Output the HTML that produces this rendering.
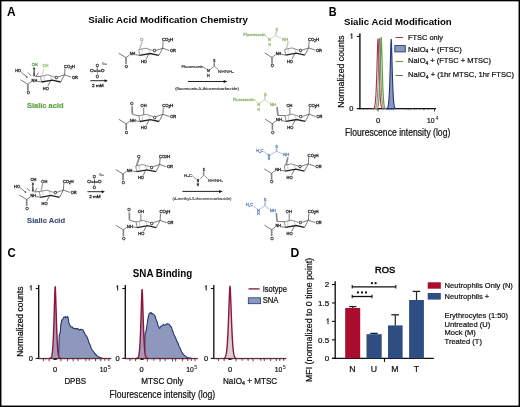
<!DOCTYPE html><html><head><meta charset="utf-8"><style>html,body{margin:0;padding:0;background:#fff;width:520px;height:407px;overflow:hidden}svg text{font-family:"Liberation Sans", sans-serif}</style></head><body><svg width="520" height="407" viewBox="0 0 520 407" style="display:block;will-change:transform" font-family='"Liberation Sans", sans-serif'>
<rect x="0" y="0" width="520" height="407" fill="#fff"/>
<text x="7.0" y="15.8" font-size="12.3" text-anchor="start" font-weight="bold" fill="#000" textLength="8.6" lengthAdjust="spacingAndGlyphs" >A</text>
<text x="88.2" y="22.8" font-size="9.8" text-anchor="start" font-weight="bold" fill="#000" textLength="159.7" lengthAdjust="spacingAndGlyphs" >Sialic Acid Modification Chemistry</text>
<text x="328.8" y="15.8" font-size="12.3" text-anchor="start" font-weight="bold" fill="#000" textLength="7.9" lengthAdjust="spacingAndGlyphs" >B</text>
<text x="7.6" y="257.4" font-size="12.3" text-anchor="start" font-weight="bold" fill="#000" textLength="8.2" lengthAdjust="spacingAndGlyphs" >C</text>
<text x="290.5" y="257.0" font-size="12.3" text-anchor="start" font-weight="bold" fill="#000" textLength="8.8" lengthAdjust="spacingAndGlyphs" >D</text>
<path d="M41.60,82.00 L40.60,76.30 L47.80,74.80 L54.90,77.10" stroke="#222" stroke-width="0.5" fill="none" />
<path d="M57.90,77.10 L64.60,74.80 L60.70,82.00" stroke="#222" stroke-width="0.6" fill="none" />
<path d="M60.70,82.00 L52.10,80.10 L41.60,82.00" stroke="#222" stroke-width="1.3" fill="none" />
<text x="56.40" y="79.04" font-size="4.0" text-anchor="middle" font-weight="normal" fill="#222" stroke-linejoin="round" stroke="#222" stroke-width="0.28">O</text>
<line x1="44.10" y1="75.60" x2="44.10" y2="80.60" stroke="#777" stroke-width="0.35"/>
<line x1="50.10" y1="75.60" x2="52.10" y2="80.10" stroke="#777" stroke-width="0.35"/>
<line x1="64.60" y1="74.80" x2="65.00" y2="68.20" stroke="#222" stroke-width="0.6"/>
<text x="69.40" y="67.84" font-size="4.0" text-anchor="middle" font-weight="normal" fill="#222" textLength="11" lengthAdjust="spacingAndGlyphs" stroke-linejoin="round" stroke="#222" stroke-width="0.28">CO<tspan font-size="2.6" dy="0.8">2</tspan><tspan dy="-0.8">H</tspan></text>
<line x1="64.60" y1="74.80" x2="71.20" y2="77.10" stroke="#222" stroke-width="0.6"/>
<text x="74.90" y="78.64" font-size="4.0" text-anchor="middle" font-weight="normal" fill="#222" textLength="6" lengthAdjust="spacingAndGlyphs" stroke-linejoin="round" stroke="#222" stroke-width="0.28">OR</text>
<line x1="50.70" y1="80.60" x2="48.00" y2="85.80" stroke="#222" stroke-width="0.6"/>
<text x="45.80" y="89.54" font-size="4.0" text-anchor="middle" font-weight="normal" fill="#222" textLength="6" lengthAdjust="spacingAndGlyphs" stroke-linejoin="round" stroke="#222" stroke-width="0.28">HO</text>
<line x1="41.60" y1="82.00" x2="37.40" y2="81.30" stroke="#222" stroke-width="0.6"/>
<text x="34.40" y="82.04" font-size="4.0" text-anchor="middle" font-weight="normal" fill="#222" textLength="5.6" lengthAdjust="spacingAndGlyphs" stroke-linejoin="round" stroke="#222" stroke-width="0.28">NH</text>
<line x1="31.40" y1="81.60" x2="27.90" y2="84.30" stroke="#222" stroke-width="0.6"/>
<line x1="27.90" y1="84.30" x2="20.60" y2="79.80" stroke="#222" stroke-width="0.6"/>
<line x1="27.55" y1="84.30" x2="27.55" y2="90.60" stroke="#222" stroke-width="0.5"/>
<line x1="28.25" y1="84.30" x2="28.25" y2="90.60" stroke="#222" stroke-width="0.5"/>
<text x="28.20" y="94.24" font-size="4.0" text-anchor="middle" font-weight="normal" fill="#222" stroke-linejoin="round" stroke="#222" stroke-width="0.28">O</text>
<line x1="40.60" y1="76.30" x2="35.10" y2="76.60" stroke="#222" stroke-width="0.6"/>
<line x1="21.30" y1="72.20" x2="26.00" y2="76.40" stroke="#222" stroke-width="0.6"/>
<text x="26.80" y="77.94" font-size="2.6" text-anchor="middle" font-weight="normal" fill="#222" stroke-linejoin="round" stroke="#222" stroke-width="0.1">a</text>
<text x="18.20" y="72.44" font-size="4.0" text-anchor="middle" font-weight="normal" fill="#222" textLength="5.8" lengthAdjust="spacingAndGlyphs" stroke-linejoin="round" stroke="#222" stroke-width="0.28">HO</text>
<line x1="28.00" y1="72.60" x2="31.20" y2="76.00" stroke="#222" stroke-width="0.6"/>
<line x1="36.40" y1="76.00" x2="38.30" y2="72.60" stroke="#222" stroke-width="0.6"/>
<path d="M33.40,76.00 L34.10,67.60 L34.80,76.00Z" stroke="#222" stroke-width="0.3" fill="#222" />
<path d="M33.00,69.20 L34.10,67.20 L35.20,69.20Z" stroke="#222" stroke-width="0.2" fill="#222" />
<text x="34.70" y="66.04" font-size="4.0" text-anchor="middle" font-weight="normal" fill="#5ea545" textLength="6" lengthAdjust="spacingAndGlyphs" stroke-linejoin="round" stroke="#5ea545" stroke-width="0.28">OH</text>
<line x1="42.40" y1="75.40" x2="43.80" y2="68.40" stroke="#98c478" stroke-width="0.55"/>
<text x="45.50" y="67.44" font-size="4.0" text-anchor="middle" font-weight="normal" fill="#98c478" textLength="6" lengthAdjust="spacingAndGlyphs" stroke-linejoin="round" stroke="#98c478" stroke-width="0.28">OH</text>
<text x="26.9" y="107.9" font-size="7.8" text-anchor="start" font-weight="bold" fill="#5ea545" textLength="36.7" lengthAdjust="spacingAndGlyphs"  stroke="#5ea545" stroke-width="0.2">Sialic acid</text>
<text x="97.30" y="66.74" font-size="4.0" text-anchor="middle" font-weight="normal" fill="#222" stroke-linejoin="round" stroke="#222" stroke-width="0.28">O</text>
<text x="104.50" y="65.04" font-size="2.6" text-anchor="middle" font-weight="normal" fill="#666" stroke-linejoin="round" stroke="#666" stroke-width="0.1">Na+</text>
<text x="97.30" y="72.14" font-size="4.0" text-anchor="middle" font-weight="normal" fill="#222" textLength="14.5" lengthAdjust="spacingAndGlyphs" stroke-linejoin="round" stroke="#222" stroke-width="0.28">O=I=O</text>
<text x="97.30" y="77.94" font-size="4.0" text-anchor="middle" font-weight="normal" fill="#222" stroke-linejoin="round" stroke="#222" stroke-width="0.28">O</text>
<line x1="97.30" y1="66.70" x2="97.30" y2="69.20" stroke="#222" stroke-width="0.4"/>
<line x1="97.30" y1="72.20" x2="97.30" y2="74.90" stroke="#222" stroke-width="0.4"/>
<line x1="90.30" y1="80.70" x2="105.80" y2="80.70" stroke="#111" stroke-width="0.9"/>
<path d="M107.8,80.7 L104.6,79.2 L104.6,82.2Z" stroke="#111" stroke-width="0" fill="#111" />
<text x="97.80" y="86.64" font-size="4.0" text-anchor="middle" font-weight="normal" fill="#222" textLength="11.5" lengthAdjust="spacingAndGlyphs" stroke-linejoin="round" stroke="#222" stroke-width="0.28">2 mM</text>
<path d="M139.70,55.40 L138.70,49.70 L145.90,48.20 L153.00,50.50" stroke="#222" stroke-width="0.5" fill="none" />
<path d="M156.00,50.50 L162.70,48.20 L158.80,55.40" stroke="#222" stroke-width="0.6" fill="none" />
<path d="M158.80,55.40 L150.20,53.50 L139.70,55.40" stroke="#222" stroke-width="1.3" fill="none" />
<text x="154.50" y="52.44" font-size="4.0" text-anchor="middle" font-weight="normal" fill="#222" stroke-linejoin="round" stroke="#222" stroke-width="0.28">O</text>
<line x1="142.20" y1="49.00" x2="142.20" y2="54.00" stroke="#777" stroke-width="0.35"/>
<line x1="148.20" y1="49.00" x2="150.20" y2="53.50" stroke="#777" stroke-width="0.35"/>
<line x1="162.70" y1="48.20" x2="163.10" y2="41.60" stroke="#222" stroke-width="0.6"/>
<text x="167.50" y="41.24" font-size="4.0" text-anchor="middle" font-weight="normal" fill="#222" textLength="11" lengthAdjust="spacingAndGlyphs" stroke-linejoin="round" stroke="#222" stroke-width="0.28">CO<tspan font-size="2.6" dy="0.8">2</tspan><tspan dy="-0.8">H</tspan></text>
<line x1="162.70" y1="48.20" x2="169.30" y2="50.50" stroke="#222" stroke-width="0.6"/>
<text x="173.00" y="52.04" font-size="4.0" text-anchor="middle" font-weight="normal" fill="#222" textLength="6" lengthAdjust="spacingAndGlyphs" stroke-linejoin="round" stroke="#222" stroke-width="0.28">OR</text>
<line x1="148.80" y1="54.00" x2="146.10" y2="59.20" stroke="#222" stroke-width="0.6"/>
<text x="143.90" y="62.94" font-size="4.0" text-anchor="middle" font-weight="normal" fill="#222" textLength="6" lengthAdjust="spacingAndGlyphs" stroke-linejoin="round" stroke="#222" stroke-width="0.28">HO</text>
<line x1="139.70" y1="55.40" x2="135.50" y2="54.70" stroke="#222" stroke-width="0.6"/>
<text x="132.50" y="55.44" font-size="4.0" text-anchor="middle" font-weight="normal" fill="#222" textLength="5.6" lengthAdjust="spacingAndGlyphs" stroke-linejoin="round" stroke="#222" stroke-width="0.28">NH</text>
<line x1="129.50" y1="55.00" x2="126.00" y2="57.70" stroke="#222" stroke-width="0.6"/>
<line x1="126.00" y1="57.70" x2="118.70" y2="53.20" stroke="#222" stroke-width="0.6"/>
<line x1="125.65" y1="57.70" x2="125.65" y2="64.00" stroke="#222" stroke-width="0.5"/>
<line x1="126.35" y1="57.70" x2="126.35" y2="64.00" stroke="#222" stroke-width="0.5"/>
<text x="126.30" y="67.64" font-size="4.0" text-anchor="middle" font-weight="normal" fill="#222" stroke-linejoin="round" stroke="#222" stroke-width="0.28">O</text>
<line x1="139.93" y1="49.21" x2="142.43" y2="42.01" stroke="#8a9a80" stroke-width="0.5"/>
<line x1="139.27" y1="48.99" x2="141.77" y2="41.79" stroke="#8a9a80" stroke-width="0.5"/>
<text x="141.90" y="41.44" font-size="4.0" text-anchor="middle" font-weight="normal" fill="#8a9a80" stroke-linejoin="round" stroke="#8a9a80" stroke-width="0.28">O</text>
<path d="M139.90,121.50 L138.90,115.80 L146.10,114.30 L153.20,116.60" stroke="#222" stroke-width="0.5" fill="none" />
<path d="M156.20,116.60 L162.90,114.30 L159.00,121.50" stroke="#222" stroke-width="0.6" fill="none" />
<path d="M159.00,121.50 L150.40,119.60 L139.90,121.50" stroke="#222" stroke-width="1.3" fill="none" />
<text x="154.70" y="118.54" font-size="4.0" text-anchor="middle" font-weight="normal" fill="#222" stroke-linejoin="round" stroke="#222" stroke-width="0.28">O</text>
<line x1="142.40" y1="115.10" x2="142.40" y2="120.10" stroke="#777" stroke-width="0.35"/>
<line x1="148.40" y1="115.10" x2="150.40" y2="119.60" stroke="#777" stroke-width="0.35"/>
<line x1="162.90" y1="114.30" x2="163.30" y2="107.70" stroke="#222" stroke-width="0.6"/>
<text x="167.70" y="107.34" font-size="4.0" text-anchor="middle" font-weight="normal" fill="#222" textLength="11" lengthAdjust="spacingAndGlyphs" stroke-linejoin="round" stroke="#222" stroke-width="0.28">CO<tspan font-size="2.6" dy="0.8">2</tspan><tspan dy="-0.8">H</tspan></text>
<line x1="162.90" y1="114.30" x2="169.50" y2="116.60" stroke="#222" stroke-width="0.6"/>
<text x="173.20" y="118.14" font-size="4.0" text-anchor="middle" font-weight="normal" fill="#222" textLength="6" lengthAdjust="spacingAndGlyphs" stroke-linejoin="round" stroke="#222" stroke-width="0.28">OR</text>
<line x1="149.00" y1="120.10" x2="146.30" y2="125.30" stroke="#222" stroke-width="0.6"/>
<text x="144.10" y="129.04" font-size="4.0" text-anchor="middle" font-weight="normal" fill="#222" textLength="6" lengthAdjust="spacingAndGlyphs" stroke-linejoin="round" stroke="#222" stroke-width="0.28">HO</text>
<line x1="139.90" y1="121.50" x2="135.70" y2="120.80" stroke="#222" stroke-width="0.6"/>
<text x="132.70" y="121.54" font-size="4.0" text-anchor="middle" font-weight="normal" fill="#222" textLength="5.6" lengthAdjust="spacingAndGlyphs" stroke-linejoin="round" stroke="#222" stroke-width="0.28">NH</text>
<line x1="129.70" y1="121.10" x2="126.20" y2="123.80" stroke="#222" stroke-width="0.6"/>
<line x1="126.20" y1="123.80" x2="118.90" y2="119.30" stroke="#222" stroke-width="0.6"/>
<line x1="125.85" y1="123.80" x2="125.85" y2="130.10" stroke="#222" stroke-width="0.5"/>
<line x1="126.55" y1="123.80" x2="126.55" y2="130.10" stroke="#222" stroke-width="0.5"/>
<text x="126.50" y="133.74" font-size="4.0" text-anchor="middle" font-weight="normal" fill="#222" stroke-linejoin="round" stroke="#222" stroke-width="0.28">O</text>
<line x1="138.90" y1="115.80" x2="132.30" y2="114.30" stroke="#222" stroke-width="0.6"/>
<line x1="132.65" y1="113.99" x2="132.45" y2="106.29" stroke="#222" stroke-width="0.5"/>
<line x1="131.95" y1="114.01" x2="131.75" y2="106.31" stroke="#222" stroke-width="0.5"/>
<text x="131.90" y="105.24" font-size="4.0" text-anchor="middle" font-weight="normal" fill="#222" stroke-linejoin="round" stroke="#222" stroke-width="0.28">O</text>
<line x1="143.70" y1="114.80" x2="143.70" y2="107.90" stroke="#222" stroke-width="0.6"/>
<text x="143.60" y="107.14" font-size="4.0" text-anchor="middle" font-weight="normal" fill="#222" textLength="6" lengthAdjust="spacingAndGlyphs" stroke-linejoin="round" stroke="#222" stroke-width="0.28">OH</text>
<text x="192.50" y="67.84" font-size="4.0" text-anchor="middle" font-weight="normal" fill="#333" textLength="22" lengthAdjust="spacingAndGlyphs" stroke-linejoin="round" stroke="#333" stroke-width="0.2">Fluorescein</text>
<line x1="203.60" y1="67.20" x2="207.70" y2="70.20" stroke="#222" stroke-width="0.5"/>
<text x="208.50" y="72.35" font-size="3.2" text-anchor="middle" font-weight="normal" fill="#222" stroke-linejoin="round" stroke="#222" stroke-width="0.28">N</text>
<text x="208.50" y="76.95" font-size="3.2" text-anchor="middle" font-weight="normal" fill="#222" stroke-linejoin="round" stroke="#222" stroke-width="0.28">H</text>
<line x1="209.70" y1="70.20" x2="214.20" y2="66.30" stroke="#222" stroke-width="0.5"/>
<line x1="214.55" y1="66.30" x2="214.55" y2="62.50" stroke="#222" stroke-width="0.45"/>
<line x1="213.85" y1="66.30" x2="213.85" y2="62.50" stroke="#222" stroke-width="0.45"/>
<text x="214.20" y="62.35" font-size="3.2" text-anchor="middle" font-weight="normal" fill="#222" stroke-linejoin="round" stroke="#222" stroke-width="0.28">S</text>
<line x1="214.60" y1="66.30" x2="218.30" y2="69.60" stroke="#222" stroke-width="0.5"/>
<text x="225.80" y="72.54" font-size="4.0" text-anchor="middle" font-weight="normal" fill="#444" textLength="16" lengthAdjust="spacingAndGlyphs" stroke-linejoin="round" stroke="#444" stroke-width="0.18">NHNH<tspan font-size="2.5" dy="0.8">2</tspan></text>
<line x1="188.00" y1="81.50" x2="225.00" y2="81.50" stroke="#222" stroke-width="1.0"/>
<path d="M227.3,81.5 L223.7,80.0 L223.7,83.0Z" stroke="#111" stroke-width="0" fill="#111" />
<text x="207.00" y="90.23" font-size="3.7" text-anchor="middle" font-weight="normal" fill="#3a3a3a" textLength="63.7" lengthAdjust="spacingAndGlyphs" stroke-linejoin="round" stroke="#3a3a3a" stroke-width="0.15">(fluorescein-5-thiosemicarbazide)</text>
<path d="M285.70,55.10 L284.70,49.40 L291.90,47.90 L299.00,50.20" stroke="#222" stroke-width="0.5" fill="none" />
<path d="M302.00,50.20 L308.70,47.90 L304.80,55.10" stroke="#222" stroke-width="0.6" fill="none" />
<path d="M304.80,55.10 L296.20,53.20 L285.70,55.10" stroke="#222" stroke-width="1.3" fill="none" />
<text x="300.50" y="52.14" font-size="4.0" text-anchor="middle" font-weight="normal" fill="#222" stroke-linejoin="round" stroke="#222" stroke-width="0.28">O</text>
<line x1="288.20" y1="48.70" x2="288.20" y2="53.70" stroke="#777" stroke-width="0.35"/>
<line x1="294.20" y1="48.70" x2="296.20" y2="53.20" stroke="#777" stroke-width="0.35"/>
<line x1="308.70" y1="47.90" x2="309.10" y2="41.30" stroke="#222" stroke-width="0.6"/>
<text x="313.50" y="40.94" font-size="4.0" text-anchor="middle" font-weight="normal" fill="#222" textLength="11" lengthAdjust="spacingAndGlyphs" stroke-linejoin="round" stroke="#222" stroke-width="0.28">CO<tspan font-size="2.6" dy="0.8">2</tspan><tspan dy="-0.8">H</tspan></text>
<line x1="308.70" y1="47.90" x2="315.30" y2="50.20" stroke="#222" stroke-width="0.6"/>
<text x="319.00" y="51.74" font-size="4.0" text-anchor="middle" font-weight="normal" fill="#222" textLength="6" lengthAdjust="spacingAndGlyphs" stroke-linejoin="round" stroke="#222" stroke-width="0.28">OR</text>
<line x1="294.80" y1="53.70" x2="292.10" y2="58.90" stroke="#222" stroke-width="0.6"/>
<text x="289.90" y="62.64" font-size="4.0" text-anchor="middle" font-weight="normal" fill="#222" textLength="6" lengthAdjust="spacingAndGlyphs" stroke-linejoin="round" stroke="#222" stroke-width="0.28">HO</text>
<line x1="285.70" y1="55.10" x2="281.50" y2="54.40" stroke="#222" stroke-width="0.6"/>
<text x="278.50" y="55.14" font-size="4.0" text-anchor="middle" font-weight="normal" fill="#222" textLength="5.6" lengthAdjust="spacingAndGlyphs" stroke-linejoin="round" stroke="#222" stroke-width="0.28">NH</text>
<line x1="275.50" y1="54.70" x2="272.00" y2="57.40" stroke="#222" stroke-width="0.6"/>
<line x1="272.00" y1="57.40" x2="264.70" y2="52.90" stroke="#222" stroke-width="0.6"/>
<line x1="271.65" y1="57.40" x2="271.65" y2="63.70" stroke="#222" stroke-width="0.5"/>
<line x1="272.35" y1="57.40" x2="272.35" y2="63.70" stroke="#222" stroke-width="0.5"/>
<text x="272.30" y="67.34" font-size="4.0" text-anchor="middle" font-weight="normal" fill="#222" stroke-linejoin="round" stroke="#222" stroke-width="0.28">O</text>
<line x1="286.84" y1="49.08" x2="288.64" y2="41.58" stroke="#94b672" stroke-width="0.5"/>
<line x1="286.16" y1="48.92" x2="287.96" y2="41.42" stroke="#94b672" stroke-width="0.5"/>
<text x="285.30" y="40.74" font-size="4.0" text-anchor="middle" font-weight="normal" fill="#94b672" textLength="6" lengthAdjust="spacingAndGlyphs" stroke-linejoin="round" stroke="#94b672" stroke-width="0.28">NH</text>
<line x1="281.70" y1="38.40" x2="275.40" y2="35.60" stroke="#94b672" stroke-width="0.5"/>
<line x1="275.74" y1="35.69" x2="276.84" y2="31.39" stroke="#94b672" stroke-width="0.45"/>
<line x1="275.06" y1="35.51" x2="276.16" y2="31.21" stroke="#94b672" stroke-width="0.45"/>
<text x="276.80" y="31.44" font-size="4.0" text-anchor="middle" font-weight="normal" fill="#94b672" stroke-linejoin="round" stroke="#94b672" stroke-width="0.28">S</text>
<line x1="275.40" y1="35.60" x2="270.10" y2="39.10" stroke="#94b672" stroke-width="0.5"/>
<text x="269.50" y="41.45" font-size="3.2" text-anchor="middle" font-weight="normal" fill="#94b672" stroke-linejoin="round" stroke="#94b672" stroke-width="0.28">N</text>
<text x="269.60" y="45.75" font-size="3.2" text-anchor="middle" font-weight="normal" fill="#94b672" stroke-linejoin="round" stroke="#94b672" stroke-width="0.28">H</text>
<line x1="268.90" y1="38.70" x2="265.40" y2="35.60" stroke="#94b672" stroke-width="0.5"/>
<text x="254.30" y="36.44" font-size="4.0" text-anchor="middle" font-weight="normal" fill="#94b672" textLength="22" lengthAdjust="spacingAndGlyphs" stroke-linejoin="round" stroke="#94b672" stroke-width="0.28">Fluorescein</text>
<path d="M286.10,121.40 L285.10,115.70 L292.30,114.20 L299.40,116.50" stroke="#222" stroke-width="0.5" fill="none" />
<path d="M302.40,116.50 L309.10,114.20 L305.20,121.40" stroke="#222" stroke-width="0.6" fill="none" />
<path d="M305.20,121.40 L296.60,119.50 L286.10,121.40" stroke="#222" stroke-width="1.3" fill="none" />
<text x="300.90" y="118.44" font-size="4.0" text-anchor="middle" font-weight="normal" fill="#222" stroke-linejoin="round" stroke="#222" stroke-width="0.28">O</text>
<line x1="288.60" y1="115.00" x2="288.60" y2="120.00" stroke="#777" stroke-width="0.35"/>
<line x1="294.60" y1="115.00" x2="296.60" y2="119.50" stroke="#777" stroke-width="0.35"/>
<line x1="309.10" y1="114.20" x2="309.50" y2="107.60" stroke="#222" stroke-width="0.6"/>
<text x="313.90" y="107.24" font-size="4.0" text-anchor="middle" font-weight="normal" fill="#222" textLength="11" lengthAdjust="spacingAndGlyphs" stroke-linejoin="round" stroke="#222" stroke-width="0.28">CO<tspan font-size="2.6" dy="0.8">2</tspan><tspan dy="-0.8">H</tspan></text>
<line x1="309.10" y1="114.20" x2="315.70" y2="116.50" stroke="#222" stroke-width="0.6"/>
<text x="319.40" y="118.04" font-size="4.0" text-anchor="middle" font-weight="normal" fill="#222" textLength="6" lengthAdjust="spacingAndGlyphs" stroke-linejoin="round" stroke="#222" stroke-width="0.28">OR</text>
<line x1="295.20" y1="120.00" x2="292.50" y2="125.20" stroke="#222" stroke-width="0.6"/>
<text x="290.30" y="128.94" font-size="4.0" text-anchor="middle" font-weight="normal" fill="#222" textLength="6" lengthAdjust="spacingAndGlyphs" stroke-linejoin="round" stroke="#222" stroke-width="0.28">HO</text>
<line x1="286.10" y1="121.40" x2="281.90" y2="120.70" stroke="#222" stroke-width="0.6"/>
<text x="278.90" y="121.44" font-size="4.0" text-anchor="middle" font-weight="normal" fill="#222" textLength="5.6" lengthAdjust="spacingAndGlyphs" stroke-linejoin="round" stroke="#222" stroke-width="0.28">NH</text>
<line x1="275.90" y1="121.00" x2="272.40" y2="123.70" stroke="#222" stroke-width="0.6"/>
<line x1="272.40" y1="123.70" x2="265.10" y2="119.20" stroke="#222" stroke-width="0.6"/>
<line x1="272.05" y1="123.70" x2="272.05" y2="130.00" stroke="#222" stroke-width="0.5"/>
<line x1="272.75" y1="123.70" x2="272.75" y2="130.00" stroke="#222" stroke-width="0.5"/>
<text x="272.70" y="133.64" font-size="4.0" text-anchor="middle" font-weight="normal" fill="#222" stroke-linejoin="round" stroke="#222" stroke-width="0.28">O</text>
<line x1="285.10" y1="115.70" x2="278.10" y2="115.40" stroke="#222" stroke-width="0.6"/>
<line x1="278.25" y1="115.56" x2="277.35" y2="106.96" stroke="#222" stroke-width="0.5"/>
<line x1="277.55" y1="115.64" x2="276.65" y2="107.04" stroke="#222" stroke-width="0.5"/>
<text x="273.00" y="105.94" font-size="4.0" text-anchor="middle" font-weight="normal" fill="#94b672" textLength="6" lengthAdjust="spacingAndGlyphs" stroke-linejoin="round" stroke="#94b672" stroke-width="0.28">NH</text>
<line x1="269.60" y1="103.20" x2="264.60" y2="99.70" stroke="#94b672" stroke-width="0.5"/>
<line x1="264.95" y1="99.75" x2="265.55" y2="95.65" stroke="#94b672" stroke-width="0.45"/>
<line x1="264.25" y1="99.65" x2="264.85" y2="95.55" stroke="#94b672" stroke-width="0.45"/>
<text x="265.30" y="95.74" font-size="4.0" text-anchor="middle" font-weight="normal" fill="#94b672" stroke-linejoin="round" stroke="#94b672" stroke-width="0.28">S</text>
<line x1="264.60" y1="99.70" x2="259.10" y2="103.70" stroke="#94b672" stroke-width="0.5"/>
<text x="258.60" y="105.85" font-size="3.2" text-anchor="middle" font-weight="normal" fill="#94b672" stroke-linejoin="round" stroke="#94b672" stroke-width="0.28">N</text>
<text x="258.60" y="110.55" font-size="3.2" text-anchor="middle" font-weight="normal" fill="#94b672" stroke-linejoin="round" stroke="#94b672" stroke-width="0.28">H</text>
<line x1="258.10" y1="103.20" x2="254.80" y2="100.00" stroke="#94b672" stroke-width="0.5"/>
<text x="243.70" y="101.14" font-size="4.0" text-anchor="middle" font-weight="normal" fill="#94b672" textLength="22" lengthAdjust="spacingAndGlyphs" stroke-linejoin="round" stroke="#94b672" stroke-width="0.28">Fluorescein</text>
<line x1="289.90" y1="114.70" x2="289.90" y2="107.80" stroke="#222" stroke-width="0.6"/>
<text x="289.40" y="106.94" font-size="4.0" text-anchor="middle" font-weight="normal" fill="#222" textLength="6" lengthAdjust="spacingAndGlyphs" stroke-linejoin="round" stroke="#222" stroke-width="0.28">OH</text>
<path d="M40.40,197.30 L39.40,191.60 L46.60,190.10 L53.70,192.40" stroke="#222" stroke-width="0.5" fill="none" />
<path d="M56.70,192.40 L63.40,190.10 L59.50,197.30" stroke="#222" stroke-width="0.6" fill="none" />
<path d="M59.50,197.30 L50.90,195.40 L40.40,197.30" stroke="#222" stroke-width="1.3" fill="none" />
<text x="55.20" y="194.34" font-size="4.0" text-anchor="middle" font-weight="normal" fill="#222" stroke-linejoin="round" stroke="#222" stroke-width="0.28">O</text>
<line x1="42.90" y1="190.90" x2="42.90" y2="195.90" stroke="#777" stroke-width="0.35"/>
<line x1="48.90" y1="190.90" x2="50.90" y2="195.40" stroke="#777" stroke-width="0.35"/>
<line x1="63.40" y1="190.10" x2="63.80" y2="183.50" stroke="#222" stroke-width="0.6"/>
<text x="68.20" y="183.14" font-size="4.0" text-anchor="middle" font-weight="normal" fill="#222" textLength="11" lengthAdjust="spacingAndGlyphs" stroke-linejoin="round" stroke="#222" stroke-width="0.28">CO<tspan font-size="2.6" dy="0.8">2</tspan><tspan dy="-0.8">H</tspan></text>
<line x1="63.40" y1="190.10" x2="70.00" y2="192.40" stroke="#222" stroke-width="0.6"/>
<text x="73.70" y="193.94" font-size="4.0" text-anchor="middle" font-weight="normal" fill="#222" textLength="6" lengthAdjust="spacingAndGlyphs" stroke-linejoin="round" stroke="#222" stroke-width="0.28">OR</text>
<line x1="49.50" y1="195.90" x2="46.80" y2="201.10" stroke="#222" stroke-width="0.6"/>
<text x="44.60" y="204.84" font-size="4.0" text-anchor="middle" font-weight="normal" fill="#222" textLength="6" lengthAdjust="spacingAndGlyphs" stroke-linejoin="round" stroke="#222" stroke-width="0.28">HO</text>
<line x1="40.40" y1="197.30" x2="36.20" y2="196.60" stroke="#222" stroke-width="0.6"/>
<text x="33.20" y="197.34" font-size="4.0" text-anchor="middle" font-weight="normal" fill="#222" textLength="5.6" lengthAdjust="spacingAndGlyphs" stroke-linejoin="round" stroke="#222" stroke-width="0.28">NH</text>
<line x1="30.20" y1="196.90" x2="26.70" y2="199.60" stroke="#222" stroke-width="0.6"/>
<line x1="26.70" y1="199.60" x2="19.40" y2="195.10" stroke="#222" stroke-width="0.6"/>
<line x1="26.35" y1="199.60" x2="26.35" y2="205.90" stroke="#222" stroke-width="0.5"/>
<line x1="27.05" y1="199.60" x2="27.05" y2="205.90" stroke="#222" stroke-width="0.5"/>
<text x="27.00" y="209.54" font-size="4.0" text-anchor="middle" font-weight="normal" fill="#222" stroke-linejoin="round" stroke="#222" stroke-width="0.28">O</text>
<line x1="39.40" y1="191.60" x2="33.90" y2="191.90" stroke="#222" stroke-width="0.6"/>
<line x1="20.10" y1="187.50" x2="24.80" y2="191.70" stroke="#222" stroke-width="0.6"/>
<text x="25.60" y="193.24" font-size="2.6" text-anchor="middle" font-weight="normal" fill="#222" stroke-linejoin="round" stroke="#222" stroke-width="0.1">a</text>
<text x="17.00" y="187.74" font-size="4.0" text-anchor="middle" font-weight="normal" fill="#222" textLength="5.8" lengthAdjust="spacingAndGlyphs" stroke-linejoin="round" stroke="#222" stroke-width="0.28">HO</text>
<line x1="26.80" y1="187.90" x2="30.00" y2="191.30" stroke="#222" stroke-width="0.6"/>
<line x1="35.20" y1="191.30" x2="37.10" y2="187.90" stroke="#222" stroke-width="0.6"/>
<path d="M32.20,191.30 L32.90,182.90 L33.60,191.30Z" stroke="#222" stroke-width="0.3" fill="#222" />
<path d="M31.80,184.50 L32.90,182.50 L34.00,184.50Z" stroke="#222" stroke-width="0.2" fill="#222" />
<text x="33.50" y="181.34" font-size="4.0" text-anchor="middle" font-weight="normal" fill="#222" textLength="6" lengthAdjust="spacingAndGlyphs" stroke-linejoin="round" stroke="#222" stroke-width="0.28">OH</text>
<line x1="41.20" y1="190.70" x2="42.60" y2="183.70" stroke="#222" stroke-width="0.55"/>
<text x="44.30" y="182.74" font-size="4.0" text-anchor="middle" font-weight="normal" fill="#222" textLength="6" lengthAdjust="spacingAndGlyphs" stroke-linejoin="round" stroke="#222" stroke-width="0.28">OH</text>
<text x="27.1" y="222.9" font-size="7.8" text-anchor="start" font-weight="bold" fill="#3f5078" textLength="38" lengthAdjust="spacingAndGlyphs"  stroke="#3f5078" stroke-width="0.15">Sialic Acid</text>
<text x="94.40" y="177.74" font-size="4.0" text-anchor="middle" font-weight="normal" fill="#222" stroke-linejoin="round" stroke="#222" stroke-width="0.28">O</text>
<text x="101.60" y="176.04" font-size="2.6" text-anchor="middle" font-weight="normal" fill="#666" stroke-linejoin="round" stroke="#666" stroke-width="0.1">Na+</text>
<text x="94.40" y="183.14" font-size="4.0" text-anchor="middle" font-weight="normal" fill="#222" textLength="14.5" lengthAdjust="spacingAndGlyphs" stroke-linejoin="round" stroke="#222" stroke-width="0.28">O=I=O</text>
<text x="94.40" y="188.94" font-size="4.0" text-anchor="middle" font-weight="normal" fill="#222" stroke-linejoin="round" stroke="#222" stroke-width="0.28">O</text>
<line x1="94.40" y1="177.70" x2="94.40" y2="180.20" stroke="#222" stroke-width="0.4"/>
<line x1="94.40" y1="183.20" x2="94.40" y2="185.90" stroke="#222" stroke-width="0.4"/>
<line x1="87.40" y1="191.70" x2="102.90" y2="191.70" stroke="#111" stroke-width="0.9"/>
<path d="M104.9,191.7 L101.7,190.2 L101.7,193.2Z" stroke="#111" stroke-width="0" fill="#111" />
<text x="94.90" y="197.64" font-size="4.0" text-anchor="middle" font-weight="normal" fill="#222" textLength="11.5" lengthAdjust="spacingAndGlyphs" stroke-linejoin="round" stroke="#222" stroke-width="0.28">2 mM</text>
<path d="M136.70,171.70 L135.70,166.00 L142.90,164.50 L150.00,166.80" stroke="#222" stroke-width="0.5" fill="none" />
<path d="M153.00,166.80 L159.70,164.50 L155.80,171.70" stroke="#222" stroke-width="0.6" fill="none" />
<path d="M155.80,171.70 L147.20,169.80 L136.70,171.70" stroke="#222" stroke-width="1.3" fill="none" />
<text x="151.50" y="168.74" font-size="4.0" text-anchor="middle" font-weight="normal" fill="#222" stroke-linejoin="round" stroke="#222" stroke-width="0.28">O</text>
<line x1="139.20" y1="165.30" x2="139.20" y2="170.30" stroke="#777" stroke-width="0.35"/>
<line x1="145.20" y1="165.30" x2="147.20" y2="169.80" stroke="#777" stroke-width="0.35"/>
<line x1="159.70" y1="164.50" x2="160.10" y2="157.90" stroke="#222" stroke-width="0.6"/>
<text x="164.50" y="157.54" font-size="4.0" text-anchor="middle" font-weight="normal" fill="#222" textLength="11" lengthAdjust="spacingAndGlyphs" stroke-linejoin="round" stroke="#222" stroke-width="0.28">CO<tspan font-size="2.6" dy="0.8">2</tspan><tspan dy="-0.8">H</tspan></text>
<line x1="159.70" y1="164.50" x2="166.30" y2="166.80" stroke="#222" stroke-width="0.6"/>
<text x="170.00" y="168.34" font-size="4.0" text-anchor="middle" font-weight="normal" fill="#222" textLength="6" lengthAdjust="spacingAndGlyphs" stroke-linejoin="round" stroke="#222" stroke-width="0.28">OR</text>
<line x1="145.80" y1="170.30" x2="143.10" y2="175.50" stroke="#222" stroke-width="0.6"/>
<text x="140.90" y="179.24" font-size="4.0" text-anchor="middle" font-weight="normal" fill="#222" textLength="6" lengthAdjust="spacingAndGlyphs" stroke-linejoin="round" stroke="#222" stroke-width="0.28">HO</text>
<line x1="136.70" y1="171.70" x2="132.50" y2="171.00" stroke="#222" stroke-width="0.6"/>
<text x="129.50" y="171.74" font-size="4.0" text-anchor="middle" font-weight="normal" fill="#222" textLength="5.6" lengthAdjust="spacingAndGlyphs" stroke-linejoin="round" stroke="#222" stroke-width="0.28">NH</text>
<line x1="126.50" y1="171.30" x2="123.00" y2="174.00" stroke="#222" stroke-width="0.6"/>
<line x1="123.00" y1="174.00" x2="115.70" y2="169.50" stroke="#222" stroke-width="0.6"/>
<line x1="122.65" y1="174.00" x2="122.65" y2="180.30" stroke="#222" stroke-width="0.5"/>
<line x1="123.35" y1="174.00" x2="123.35" y2="180.30" stroke="#222" stroke-width="0.5"/>
<text x="123.30" y="183.94" font-size="4.0" text-anchor="middle" font-weight="normal" fill="#222" stroke-linejoin="round" stroke="#222" stroke-width="0.28">O</text>
<line x1="136.93" y1="165.51" x2="139.43" y2="158.31" stroke="#222" stroke-width="0.5"/>
<line x1="136.27" y1="165.29" x2="138.77" y2="158.09" stroke="#222" stroke-width="0.5"/>
<text x="138.90" y="157.74" font-size="4.0" text-anchor="middle" font-weight="normal" fill="#222" stroke-linejoin="round" stroke="#222" stroke-width="0.28">O</text>
<path d="M137.10,227.60 L136.10,221.90 L143.30,220.40 L150.40,222.70" stroke="#222" stroke-width="0.5" fill="none" />
<path d="M153.40,222.70 L160.10,220.40 L156.20,227.60" stroke="#222" stroke-width="0.6" fill="none" />
<path d="M156.20,227.60 L147.60,225.70 L137.10,227.60" stroke="#222" stroke-width="1.3" fill="none" />
<text x="151.90" y="224.64" font-size="4.0" text-anchor="middle" font-weight="normal" fill="#222" stroke-linejoin="round" stroke="#222" stroke-width="0.28">O</text>
<line x1="139.60" y1="221.20" x2="139.60" y2="226.20" stroke="#777" stroke-width="0.35"/>
<line x1="145.60" y1="221.20" x2="147.60" y2="225.70" stroke="#777" stroke-width="0.35"/>
<line x1="160.10" y1="220.40" x2="160.50" y2="213.80" stroke="#222" stroke-width="0.6"/>
<text x="164.90" y="213.44" font-size="4.0" text-anchor="middle" font-weight="normal" fill="#222" textLength="11" lengthAdjust="spacingAndGlyphs" stroke-linejoin="round" stroke="#222" stroke-width="0.28">CO<tspan font-size="2.6" dy="0.8">2</tspan><tspan dy="-0.8">H</tspan></text>
<line x1="160.10" y1="220.40" x2="166.70" y2="222.70" stroke="#222" stroke-width="0.6"/>
<text x="170.40" y="224.24" font-size="4.0" text-anchor="middle" font-weight="normal" fill="#222" textLength="6" lengthAdjust="spacingAndGlyphs" stroke-linejoin="round" stroke="#222" stroke-width="0.28">OR</text>
<line x1="146.20" y1="226.20" x2="143.50" y2="231.40" stroke="#222" stroke-width="0.6"/>
<text x="141.30" y="235.14" font-size="4.0" text-anchor="middle" font-weight="normal" fill="#222" textLength="6" lengthAdjust="spacingAndGlyphs" stroke-linejoin="round" stroke="#222" stroke-width="0.28">HO</text>
<line x1="137.10" y1="227.60" x2="132.90" y2="226.90" stroke="#222" stroke-width="0.6"/>
<text x="129.90" y="227.64" font-size="4.0" text-anchor="middle" font-weight="normal" fill="#222" textLength="5.6" lengthAdjust="spacingAndGlyphs" stroke-linejoin="round" stroke="#222" stroke-width="0.28">NH</text>
<line x1="126.90" y1="227.20" x2="123.40" y2="229.90" stroke="#222" stroke-width="0.6"/>
<line x1="123.40" y1="229.90" x2="116.10" y2="225.40" stroke="#222" stroke-width="0.6"/>
<line x1="123.05" y1="229.90" x2="123.05" y2="236.20" stroke="#222" stroke-width="0.5"/>
<line x1="123.75" y1="229.90" x2="123.75" y2="236.20" stroke="#222" stroke-width="0.5"/>
<text x="123.70" y="239.84" font-size="4.0" text-anchor="middle" font-weight="normal" fill="#222" stroke-linejoin="round" stroke="#222" stroke-width="0.28">O</text>
<line x1="136.10" y1="221.90" x2="129.50" y2="220.40" stroke="#222" stroke-width="0.6"/>
<line x1="129.85" y1="220.09" x2="129.65" y2="212.39" stroke="#222" stroke-width="0.5"/>
<line x1="129.15" y1="220.11" x2="128.95" y2="212.41" stroke="#222" stroke-width="0.5"/>
<text x="129.10" y="211.34" font-size="4.0" text-anchor="middle" font-weight="normal" fill="#222" stroke-linejoin="round" stroke="#222" stroke-width="0.28">O</text>
<line x1="140.90" y1="220.90" x2="140.90" y2="214.00" stroke="#222" stroke-width="0.6"/>
<text x="140.80" y="213.24" font-size="4.0" text-anchor="middle" font-weight="normal" fill="#222" textLength="6" lengthAdjust="spacingAndGlyphs" stroke-linejoin="round" stroke="#222" stroke-width="0.28">OH</text>
<text x="188.10" y="176.54" font-size="4.0" text-anchor="middle" font-weight="normal" fill="#333" textLength="8" lengthAdjust="spacingAndGlyphs" stroke-linejoin="round" stroke="#333" stroke-width="0.2">H<tspan font-size="2.5" dy="0.8">3</tspan><tspan dy="-0.8">C</tspan></text>
<line x1="192.20" y1="175.50" x2="196.20" y2="179.30" stroke="#222" stroke-width="0.5"/>
<text x="197.90" y="181.65" font-size="3.2" text-anchor="middle" font-weight="normal" fill="#222" stroke-linejoin="round" stroke="#222" stroke-width="0.28">N</text>
<text x="197.90" y="186.15" font-size="3.2" text-anchor="middle" font-weight="normal" fill="#222" stroke-linejoin="round" stroke="#222" stroke-width="0.28">H</text>
<line x1="199.50" y1="179.30" x2="203.60" y2="175.50" stroke="#222" stroke-width="0.5"/>
<line x1="203.95" y1="175.50" x2="203.95" y2="171.50" stroke="#222" stroke-width="0.45"/>
<line x1="203.25" y1="175.50" x2="203.25" y2="171.50" stroke="#222" stroke-width="0.45"/>
<text x="203.70" y="170.55" font-size="3.2" text-anchor="middle" font-weight="normal" fill="#222" stroke-linejoin="round" stroke="#222" stroke-width="0.28">S</text>
<line x1="204.40" y1="175.50" x2="207.70" y2="178.80" stroke="#222" stroke-width="0.5"/>
<text x="215.50" y="181.64" font-size="4.0" text-anchor="middle" font-weight="normal" fill="#444" textLength="15.5" lengthAdjust="spacingAndGlyphs" stroke-linejoin="round" stroke="#444" stroke-width="0.18">NHNH<tspan font-size="2.5" dy="0.8">2</tspan></text>
<line x1="182.40" y1="191.40" x2="220.00" y2="191.40" stroke="#222" stroke-width="1.0"/>
<path d="M222.6,191.4 L219.0,189.9 L219.0,192.9Z" stroke="#111" stroke-width="0" fill="#111" />
<text x="202.00" y="199.73" font-size="3.7" text-anchor="middle" font-weight="normal" fill="#444" textLength="59" lengthAdjust="spacingAndGlyphs" stroke-linejoin="round" stroke="#444" stroke-width="0.12">(4-methyl-3-thiosemicarbazide)</text>
<path d="M285.30,171.10 L284.30,165.40 L291.50,163.90 L298.60,166.20" stroke="#222" stroke-width="0.5" fill="none" />
<path d="M301.60,166.20 L308.30,163.90 L304.40,171.10" stroke="#222" stroke-width="0.6" fill="none" />
<path d="M304.40,171.10 L295.80,169.20 L285.30,171.10" stroke="#222" stroke-width="1.3" fill="none" />
<text x="300.10" y="168.14" font-size="4.0" text-anchor="middle" font-weight="normal" fill="#222" stroke-linejoin="round" stroke="#222" stroke-width="0.28">O</text>
<line x1="287.80" y1="164.70" x2="287.80" y2="169.70" stroke="#777" stroke-width="0.35"/>
<line x1="293.80" y1="164.70" x2="295.80" y2="169.20" stroke="#777" stroke-width="0.35"/>
<line x1="308.30" y1="163.90" x2="308.70" y2="157.30" stroke="#222" stroke-width="0.6"/>
<text x="313.10" y="156.94" font-size="4.0" text-anchor="middle" font-weight="normal" fill="#222" textLength="11" lengthAdjust="spacingAndGlyphs" stroke-linejoin="round" stroke="#222" stroke-width="0.28">CO<tspan font-size="2.6" dy="0.8">2</tspan><tspan dy="-0.8">H</tspan></text>
<line x1="308.30" y1="163.90" x2="314.90" y2="166.20" stroke="#222" stroke-width="0.6"/>
<text x="318.60" y="167.74" font-size="4.0" text-anchor="middle" font-weight="normal" fill="#222" textLength="6" lengthAdjust="spacingAndGlyphs" stroke-linejoin="round" stroke="#222" stroke-width="0.28">OR</text>
<line x1="294.40" y1="169.70" x2="291.70" y2="174.90" stroke="#222" stroke-width="0.6"/>
<text x="289.50" y="178.64" font-size="4.0" text-anchor="middle" font-weight="normal" fill="#222" textLength="6" lengthAdjust="spacingAndGlyphs" stroke-linejoin="round" stroke="#222" stroke-width="0.28">HO</text>
<line x1="285.30" y1="171.10" x2="281.10" y2="170.40" stroke="#222" stroke-width="0.6"/>
<text x="278.10" y="171.14" font-size="4.0" text-anchor="middle" font-weight="normal" fill="#222" textLength="5.6" lengthAdjust="spacingAndGlyphs" stroke-linejoin="round" stroke="#222" stroke-width="0.28">NH</text>
<line x1="275.10" y1="170.70" x2="271.60" y2="173.40" stroke="#222" stroke-width="0.6"/>
<line x1="271.60" y1="173.40" x2="264.30" y2="168.90" stroke="#222" stroke-width="0.6"/>
<line x1="271.25" y1="173.40" x2="271.25" y2="179.70" stroke="#222" stroke-width="0.5"/>
<line x1="271.95" y1="173.40" x2="271.95" y2="179.70" stroke="#222" stroke-width="0.5"/>
<text x="271.90" y="183.34" font-size="4.0" text-anchor="middle" font-weight="normal" fill="#222" stroke-linejoin="round" stroke="#222" stroke-width="0.28">O</text>
<line x1="286.44" y1="165.08" x2="288.24" y2="157.38" stroke="#222" stroke-width="0.5"/>
<line x1="285.76" y1="164.92" x2="287.56" y2="157.22" stroke="#222" stroke-width="0.5"/>
<text x="286.20" y="156.04" font-size="4.0" text-anchor="middle" font-weight="normal" fill="#6283bd" textLength="6" lengthAdjust="spacingAndGlyphs" stroke-linejoin="round" stroke="#6283bd" stroke-width="0.28">NH</text>
<line x1="282.80" y1="153.90" x2="276.60" y2="151.40" stroke="#6283bd" stroke-width="0.5"/>
<line x1="276.95" y1="151.40" x2="276.95" y2="148.10" stroke="#6283bd" stroke-width="0.45"/>
<line x1="276.25" y1="151.40" x2="276.25" y2="148.10" stroke="#6283bd" stroke-width="0.45"/>
<text x="276.60" y="148.34" font-size="4.0" text-anchor="middle" font-weight="normal" fill="#6283bd" stroke-linejoin="round" stroke="#6283bd" stroke-width="0.28">S</text>
<line x1="276.60" y1="151.40" x2="269.50" y2="155.30" stroke="#6283bd" stroke-width="0.5"/>
<text x="268.80" y="157.45" font-size="3.2" text-anchor="middle" font-weight="normal" fill="#6283bd" stroke-linejoin="round" stroke="#6283bd" stroke-width="0.28">N</text>
<text x="268.80" y="160.25" font-size="3.2" text-anchor="middle" font-weight="normal" fill="#6283bd" stroke-linejoin="round" stroke="#6283bd" stroke-width="0.28">H</text>
<line x1="268.10" y1="154.90" x2="263.80" y2="151.40" stroke="#6283bd" stroke-width="0.5"/>
<text x="259.90" y="152.34" font-size="4.0" text-anchor="middle" font-weight="normal" fill="#6283bd" textLength="7.5" lengthAdjust="spacingAndGlyphs" stroke-linejoin="round" stroke="#6283bd" stroke-width="0.28">H<tspan font-size="2.5" dy="0.8">3</tspan><tspan dy="-0.8">C</tspan></text>
<path d="M285.40,227.40 L284.40,221.70 L291.60,220.20 L298.70,222.50" stroke="#222" stroke-width="0.5" fill="none" />
<path d="M301.70,222.50 L308.40,220.20 L304.50,227.40" stroke="#222" stroke-width="0.6" fill="none" />
<path d="M304.50,227.40 L295.90,225.50 L285.40,227.40" stroke="#222" stroke-width="1.3" fill="none" />
<text x="300.20" y="224.44" font-size="4.0" text-anchor="middle" font-weight="normal" fill="#222" stroke-linejoin="round" stroke="#222" stroke-width="0.28">O</text>
<line x1="287.90" y1="221.00" x2="287.90" y2="226.00" stroke="#777" stroke-width="0.35"/>
<line x1="293.90" y1="221.00" x2="295.90" y2="225.50" stroke="#777" stroke-width="0.35"/>
<line x1="308.40" y1="220.20" x2="308.80" y2="213.60" stroke="#222" stroke-width="0.6"/>
<text x="313.20" y="213.24" font-size="4.0" text-anchor="middle" font-weight="normal" fill="#222" textLength="11" lengthAdjust="spacingAndGlyphs" stroke-linejoin="round" stroke="#222" stroke-width="0.28">CO<tspan font-size="2.6" dy="0.8">2</tspan><tspan dy="-0.8">H</tspan></text>
<line x1="308.40" y1="220.20" x2="315.00" y2="222.50" stroke="#222" stroke-width="0.6"/>
<text x="318.70" y="224.04" font-size="4.0" text-anchor="middle" font-weight="normal" fill="#222" textLength="6" lengthAdjust="spacingAndGlyphs" stroke-linejoin="round" stroke="#222" stroke-width="0.28">OR</text>
<line x1="294.50" y1="226.00" x2="291.80" y2="231.20" stroke="#222" stroke-width="0.6"/>
<text x="289.60" y="234.94" font-size="4.0" text-anchor="middle" font-weight="normal" fill="#222" textLength="6" lengthAdjust="spacingAndGlyphs" stroke-linejoin="round" stroke="#222" stroke-width="0.28">HO</text>
<line x1="285.40" y1="227.40" x2="281.20" y2="226.70" stroke="#222" stroke-width="0.6"/>
<text x="278.20" y="227.44" font-size="4.0" text-anchor="middle" font-weight="normal" fill="#222" textLength="5.6" lengthAdjust="spacingAndGlyphs" stroke-linejoin="round" stroke="#222" stroke-width="0.28">NH</text>
<line x1="275.20" y1="227.00" x2="271.70" y2="229.70" stroke="#222" stroke-width="0.6"/>
<line x1="271.70" y1="229.70" x2="264.40" y2="225.20" stroke="#222" stroke-width="0.6"/>
<line x1="271.35" y1="229.70" x2="271.35" y2="236.00" stroke="#222" stroke-width="0.5"/>
<line x1="272.05" y1="229.70" x2="272.05" y2="236.00" stroke="#222" stroke-width="0.5"/>
<text x="272.00" y="239.64" font-size="4.0" text-anchor="middle" font-weight="normal" fill="#222" stroke-linejoin="round" stroke="#222" stroke-width="0.28">O</text>
<line x1="284.40" y1="221.70" x2="277.40" y2="221.40" stroke="#222" stroke-width="0.6"/>
<line x1="277.55" y1="221.56" x2="276.65" y2="212.96" stroke="#222" stroke-width="0.5"/>
<line x1="276.85" y1="221.64" x2="275.95" y2="213.04" stroke="#222" stroke-width="0.5"/>
<text x="272.70" y="211.64" font-size="4.0" text-anchor="middle" font-weight="normal" fill="#6283bd" textLength="6" lengthAdjust="spacingAndGlyphs" stroke-linejoin="round" stroke="#6283bd" stroke-width="0.28">NH</text>
<line x1="269.40" y1="209.20" x2="265.00" y2="205.70" stroke="#6283bd" stroke-width="0.5"/>
<line x1="265.35" y1="205.70" x2="265.35" y2="201.40" stroke="#6283bd" stroke-width="0.45"/>
<line x1="264.65" y1="205.70" x2="264.65" y2="201.40" stroke="#6283bd" stroke-width="0.45"/>
<text x="265.00" y="201.44" font-size="4.0" text-anchor="middle" font-weight="normal" fill="#6283bd" stroke-linejoin="round" stroke="#6283bd" stroke-width="0.28">S</text>
<line x1="265.00" y1="205.70" x2="258.90" y2="209.90" stroke="#6283bd" stroke-width="0.5"/>
<text x="258.40" y="212.15" font-size="3.2" text-anchor="middle" font-weight="normal" fill="#6283bd" stroke-linejoin="round" stroke="#6283bd" stroke-width="0.28">N</text>
<text x="258.50" y="215.05" font-size="3.2" text-anchor="middle" font-weight="normal" fill="#6283bd" stroke-linejoin="round" stroke="#6283bd" stroke-width="0.28">H</text>
<line x1="257.90" y1="209.70" x2="253.40" y2="206.20" stroke="#6283bd" stroke-width="0.5"/>
<text x="249.50" y="206.44" font-size="4.0" text-anchor="middle" font-weight="normal" fill="#6283bd" textLength="7.5" lengthAdjust="spacingAndGlyphs" stroke-linejoin="round" stroke="#6283bd" stroke-width="0.28">H<tspan font-size="2.5" dy="0.8">3</tspan><tspan dy="-0.8">C</tspan></text>
<line x1="289.20" y1="220.70" x2="289.20" y2="213.80" stroke="#222" stroke-width="0.6"/>
<text x="288.80" y="212.74" font-size="4.0" text-anchor="middle" font-weight="normal" fill="#222" textLength="6" lengthAdjust="spacingAndGlyphs" stroke-linejoin="round" stroke="#222" stroke-width="0.28">OH</text>
<text x="344.0" y="25" font-size="9.5" text-anchor="start" font-weight="bold" fill="#000" textLength="107.7" lengthAdjust="spacingAndGlyphs" >Sialic Acid Modification</text>
<text transform="translate(344.4,71.6) rotate(-90)" font-size="9.3" text-anchor="middle" fill="#111" stroke="#111" stroke-width="0.22" textLength="72.5" lengthAdjust="spacingAndGlyphs">Normalized counts</text>
<line x1="359.90" y1="33.30" x2="359.90" y2="109.20" stroke="#111" stroke-width="1.4"/>
<line x1="356.80" y1="36.40" x2="359.90" y2="36.40" stroke="#111" stroke-width="1.1"/>
<line x1="356.80" y1="108.70" x2="436.00" y2="108.70" stroke="#111" stroke-width="1.3"/>
<line x1="378.00" y1="108.70" x2="378.00" y2="111.50" stroke="#222" stroke-width="0.8"/>
<line x1="434.50" y1="108.70" x2="434.50" y2="111.50" stroke="#222" stroke-width="0.8"/>
<line x1="351.80" y1="33.60" x2="351.80" y2="38.90" stroke="#111" stroke-width="1.0"/>
<line x1="352.10" y1="33.70" x2="350.30" y2="35.00" stroke="#111" stroke-width="0.85"/>
<text x="353.4" y="111.3" font-size="7.5" text-anchor="end" font-weight="normal" fill="#111"  stroke="#111" stroke-width="0.22">0</text>
<text x="378.1" y="122.7" font-size="7.8" text-anchor="middle" font-weight="normal" fill="#111"  stroke="#111" stroke-width="0.22">0</text>
<text x="426.9" y="122.8" font-size="7.8" text-anchor="start" font-weight="normal" fill="#111" textLength="7.6" lengthAdjust="spacingAndGlyphs"  stroke="#111" stroke-width="0.22">10</text>
<text x="435.5" y="119.6" font-size="5.9" text-anchor="start" font-weight="normal" fill="#111" textLength="3.1" lengthAdjust="spacingAndGlyphs" >4</text>
<text x="345.1" y="135.9" font-size="10.0" text-anchor="start" font-weight="normal" fill="#111" textLength="105.2" lengthAdjust="spacingAndGlyphs"  stroke="#111" stroke-width="0.22">Flourescence intensity (log)</text>
<line x1="361.74" y1="108.20" x2="361.74" y2="109.71" stroke="#333" stroke-width="0.5"/>
<line x1="363.72" y1="108.16" x2="363.72" y2="109.79" stroke="#333" stroke-width="0.5"/>
<line x1="365.83" y1="108.51" x2="365.83" y2="109.09" stroke="#333" stroke-width="0.5"/>
<line x1="367.06" y1="108.01" x2="367.06" y2="110.09" stroke="#333" stroke-width="0.5"/>
<line x1="369.16" y1="108.40" x2="369.16" y2="109.30" stroke="#333" stroke-width="0.5"/>
<line x1="371.75" y1="108.24" x2="371.75" y2="109.61" stroke="#333" stroke-width="0.5"/>
<line x1="373.44" y1="108.24" x2="373.44" y2="109.62" stroke="#333" stroke-width="0.5"/>
<line x1="375.09" y1="108.45" x2="375.09" y2="109.20" stroke="#333" stroke-width="0.5"/>
<line x1="376.93" y1="107.99" x2="376.93" y2="110.13" stroke="#333" stroke-width="0.5"/>
<line x1="378.67" y1="108.07" x2="378.67" y2="109.96" stroke="#333" stroke-width="0.5"/>
<line x1="380.67" y1="108.51" x2="380.67" y2="109.08" stroke="#333" stroke-width="0.5"/>
<line x1="382.61" y1="108.17" x2="382.61" y2="109.77" stroke="#333" stroke-width="0.5"/>
<line x1="384.00" y1="108.53" x2="384.00" y2="109.04" stroke="#333" stroke-width="0.5"/>
<line x1="386.42" y1="108.24" x2="386.42" y2="109.61" stroke="#333" stroke-width="0.5"/>
<line x1="388.12" y1="107.98" x2="388.12" y2="110.14" stroke="#333" stroke-width="0.5"/>
<line x1="389.96" y1="107.95" x2="389.96" y2="110.20" stroke="#333" stroke-width="0.5"/>
<line x1="391.49" y1="108.03" x2="391.49" y2="110.04" stroke="#333" stroke-width="0.5"/>
<line x1="393.39" y1="107.94" x2="393.39" y2="110.22" stroke="#333" stroke-width="0.5"/>
<line x1="395.68" y1="108.49" x2="395.68" y2="109.13" stroke="#333" stroke-width="0.5"/>
<line x1="396.79" y1="108.41" x2="396.79" y2="109.28" stroke="#333" stroke-width="0.5"/>
<line x1="399.47" y1="108.27" x2="399.47" y2="109.57" stroke="#333" stroke-width="0.5"/>
<line x1="400.98" y1="108.35" x2="400.98" y2="109.39" stroke="#333" stroke-width="0.5"/>
<line x1="402.71" y1="108.30" x2="402.71" y2="109.50" stroke="#333" stroke-width="0.5"/>
<line x1="404.40" y1="108.17" x2="404.40" y2="109.76" stroke="#333" stroke-width="0.5"/>
<line x1="406.48" y1="107.96" x2="406.48" y2="110.18" stroke="#333" stroke-width="0.5"/>
<line x1="408.43" y1="107.95" x2="408.43" y2="110.21" stroke="#333" stroke-width="0.5"/>
<line x1="410.46" y1="107.91" x2="410.46" y2="110.29" stroke="#333" stroke-width="0.5"/>
<line x1="412.12" y1="108.44" x2="412.12" y2="109.21" stroke="#333" stroke-width="0.5"/>
<line x1="414.16" y1="107.92" x2="414.16" y2="110.25" stroke="#333" stroke-width="0.5"/>
<line x1="416.05" y1="108.18" x2="416.05" y2="109.74" stroke="#333" stroke-width="0.5"/>
<line x1="417.71" y1="108.41" x2="417.71" y2="109.27" stroke="#333" stroke-width="0.5"/>
<line x1="419.68" y1="108.18" x2="419.68" y2="109.75" stroke="#333" stroke-width="0.5"/>
<line x1="420.98" y1="108.51" x2="420.98" y2="109.08" stroke="#333" stroke-width="0.5"/>
<line x1="423.40" y1="107.91" x2="423.40" y2="110.29" stroke="#333" stroke-width="0.5"/>
<line x1="424.49" y1="108.03" x2="424.49" y2="110.04" stroke="#333" stroke-width="0.5"/>
<line x1="426.66" y1="108.45" x2="426.66" y2="109.20" stroke="#333" stroke-width="0.5"/>
<line x1="428.39" y1="108.05" x2="428.39" y2="110.00" stroke="#333" stroke-width="0.5"/>
<line x1="430.82" y1="108.52" x2="430.82" y2="109.06" stroke="#333" stroke-width="0.5"/>
<line x1="432.41" y1="108.52" x2="432.41" y2="109.06" stroke="#333" stroke-width="0.5"/>
<line x1="434.37" y1="108.33" x2="434.37" y2="109.43" stroke="#333" stroke-width="0.5"/>
<path d="M386.00,108.66 L386.13,108.65 L386.26,108.64 L386.39,108.61 L386.52,108.58 L386.66,108.55 L386.79,108.50 L386.92,108.43 L387.05,108.35 L387.18,108.24 L387.31,108.10 L387.44,107.93 L387.57,107.71 L387.71,107.44 L387.84,107.10 L387.97,106.68 L388.10,106.17 L388.23,105.54 L388.36,104.77 L388.49,103.86 L388.62,102.76 L388.76,101.46 L388.89,99.93 L389.02,98.14 L389.15,96.08 L389.28,93.71 L389.41,91.02 L389.54,88.00 L389.68,84.63 L389.81,80.93 L389.94,76.92 L390.07,72.61 L390.20,68.08 L390.33,63.38 L390.46,58.62 L390.59,53.92 L390.73,49.43 L390.86,45.34 L390.99,41.91 L391.12,39.48 L391.25,39.11 L391.38,41.22 L391.51,44.46 L391.64,48.41 L391.77,52.82 L391.91,57.49 L392.04,62.25 L392.17,66.97 L392.30,71.55 L392.43,75.92 L392.56,80.00 L392.69,83.78 L392.82,87.23 L392.96,90.33 L393.09,93.10 L393.22,95.54 L393.35,97.68 L393.48,99.53 L393.61,101.12 L393.74,102.47 L393.88,103.61 L394.01,104.57 L394.14,105.37 L394.27,106.03 L394.40,106.57 L394.53,107.01 L394.66,107.37 L394.79,107.65 L394.93,107.88 L395.06,108.07 L395.19,108.21 L395.32,108.32 L395.45,108.41 L395.58,108.48 L395.71,108.54 L395.84,108.58 L395.98,108.61 L396.11,108.63 L396.24,108.65 L396.37,108.66 L396.50,108.67Z" stroke="#22387a" stroke-width="1.1" fill="#8e97bd" />
<path d="M371.50,108.70 L371.66,108.70 L371.81,108.69 L371.97,108.69 L372.12,108.69 L372.28,108.68 L372.44,108.67 L372.59,108.66 L372.75,108.64 L372.91,108.62 L373.06,108.59 L373.22,108.54 L373.38,108.49 L373.53,108.41 L373.69,108.31 L373.84,108.17 L374.00,107.99 L374.16,107.76 L374.31,107.46 L374.47,107.07 L374.62,106.58 L374.78,105.96 L374.94,105.19 L375.09,104.23 L375.25,103.06 L375.41,101.63 L375.56,99.92 L375.72,97.87 L375.88,95.47 L376.03,92.67 L376.19,89.44 L376.34,85.78 L376.50,81.69 L376.66,77.18 L376.81,72.30 L376.97,67.12 L377.12,61.76 L377.28,56.35 L377.44,51.09 L377.59,46.24 L377.75,42.12 L377.91,39.19 L378.06,38.82 L378.22,41.42 L378.38,45.35 L378.53,50.08 L378.69,55.28 L378.84,60.67 L379.00,66.06 L379.16,71.29 L379.31,76.23 L379.47,80.82 L379.62,85.00 L379.78,88.75 L379.94,92.05 L380.09,94.94 L380.25,97.42 L380.41,99.54 L380.56,101.32 L380.72,102.80 L380.88,104.02 L381.03,105.01 L381.19,105.82 L381.34,106.47 L381.50,106.98 L381.66,107.39 L381.81,107.70 L381.97,107.95 L382.12,108.14 L382.28,108.28 L382.44,108.39 L382.59,108.47 L382.75,108.53 L382.91,108.58 L383.06,108.61 L383.22,108.64 L383.38,108.66 L383.53,108.67 L383.69,108.68 L383.84,108.68 L384.00,108.69" stroke="#b02a48" stroke-width="1.1" fill="none" />
<path d="M374.00,108.67 L374.14,108.66 L374.27,108.65 L374.41,108.63 L374.55,108.61 L374.69,108.58 L374.82,108.54 L374.96,108.49 L375.10,108.42 L375.24,108.34 L375.38,108.23 L375.51,108.09 L375.65,107.92 L375.79,107.70 L375.93,107.42 L376.06,107.08 L376.20,106.65 L376.34,106.13 L376.48,105.50 L376.61,104.73 L376.75,103.81 L376.89,102.71 L377.02,101.40 L377.16,99.87 L377.30,98.08 L377.44,96.01 L377.57,93.64 L377.71,90.94 L377.85,87.91 L377.99,84.54 L378.12,80.84 L378.26,76.81 L378.40,72.50 L378.54,67.95 L378.68,63.23 L378.81,58.44 L378.95,53.69 L379.09,49.15 L379.23,44.99 L379.36,41.46 L379.50,38.88 L379.64,38.18 L379.77,40.14 L379.91,43.29 L380.05,47.20 L380.19,51.59 L380.32,56.27 L380.46,61.05 L380.60,65.82 L380.74,70.46 L380.88,74.89 L381.01,79.05 L381.15,82.90 L381.29,86.42 L381.43,89.61 L381.56,92.45 L381.70,94.97 L381.84,97.17 L381.98,99.09 L382.11,100.74 L382.25,102.14 L382.39,103.33 L382.52,104.33 L382.66,105.17 L382.80,105.86 L382.94,106.43 L383.07,106.90 L383.21,107.27 L383.35,107.58 L383.49,107.82 L383.62,108.02 L383.76,108.17 L383.90,108.29 L384.04,108.39 L384.18,108.46 L384.31,108.52 L384.45,108.56 L384.59,108.60 L384.73,108.62 L384.86,108.64 L385.00,108.66" stroke="#7a6a6a" stroke-width="0.9" fill="none" />
<path d="M375.00,108.70 L375.14,108.70 L375.27,108.69 L375.41,108.69 L375.55,108.69 L375.69,108.68 L375.82,108.68 L375.96,108.67 L376.10,108.65 L376.24,108.64 L376.38,108.61 L376.51,108.58 L376.65,108.54 L376.79,108.49 L376.93,108.42 L377.06,108.33 L377.20,108.21 L377.34,108.06 L377.48,107.86 L377.61,107.61 L377.75,107.30 L377.89,106.91 L378.02,106.42 L378.16,105.81 L378.30,105.06 L378.44,104.16 L378.57,103.06 L378.71,101.74 L378.85,100.18 L378.99,98.33 L379.12,96.18 L379.26,93.69 L379.40,90.84 L379.54,87.62 L379.68,84.01 L379.81,80.03 L379.95,75.69 L380.09,71.03 L380.23,66.12 L380.36,61.05 L380.50,55.94 L380.64,50.94 L380.77,46.25 L380.91,42.11 L381.05,38.85 L381.19,37.04 L381.32,38.38 L381.46,41.44 L381.60,45.44 L381.74,50.06 L381.88,55.02 L382.01,60.12 L382.15,65.21 L382.29,70.16 L382.43,74.86 L382.56,79.27 L382.70,83.32 L382.84,86.99 L382.98,90.29 L383.11,93.20 L383.25,95.75 L383.39,97.97 L383.52,99.86 L383.66,101.48 L383.80,102.84 L383.94,103.97 L384.07,104.91 L384.21,105.68 L384.35,106.32 L384.49,106.83 L384.62,107.24 L384.76,107.56 L384.90,107.82 L385.04,108.03 L385.18,108.19 L385.31,108.31 L385.45,108.41 L385.59,108.48 L385.73,108.54 L385.86,108.58 L386.00,108.61" stroke="#5f9e45" stroke-width="1.2" fill="none" />
<line x1="395.50" y1="37.50" x2="403.00" y2="37.50" stroke="#9a3848" stroke-width="1.0"/>
<text x="408" y="39.8" font-size="7.6" text-anchor="start" font-weight="normal" fill="#111" textLength="35" lengthAdjust="spacingAndGlyphs"  stroke="#111" stroke-width="0.22">FTSC only</text>
<rect x="394.8" y="45.6" width="10.5" height="6.3" fill="#8e97bd" stroke="#213a78" stroke-width="0.9"/>
<text x="408" y="51.8" font-size="7.6" text-anchor="start" font-weight="normal" fill="#111" textLength="53.7" lengthAdjust="spacingAndGlyphs"  stroke="#111" stroke-width="0.22">NaIO<tspan font-size="5" dy="1.5">4</tspan><tspan dy="-1.5"> + (FTSC)</tspan></text>
<line x1="395.50" y1="61.50" x2="403.00" y2="61.50" stroke="#6f9a48" stroke-width="1.1"/>
<text x="408" y="63.2" font-size="7.6" text-anchor="start" font-weight="normal" fill="#111" textLength="83" lengthAdjust="spacingAndGlyphs"  stroke="#111" stroke-width="0.22">NaIO<tspan font-size="5" dy="1.5">4</tspan><tspan dy="-1.5"> + (FTSC + MTSC)</tspan></text>
<line x1="395.50" y1="75.50" x2="403.00" y2="75.50" stroke="#6e6464" stroke-width="1.0"/>
<text x="408" y="77" font-size="7.6" text-anchor="start" font-weight="normal" fill="#111" textLength="106" lengthAdjust="spacingAndGlyphs"  stroke="#111" stroke-width="0.22">NaIO<tspan font-size="5" dy="1.5">4</tspan><tspan dy="-1.5"> + (1hr MTSC, 1hr FTSC)</tspan></text>
<text x="132.8" y="276.8" font-size="10.0" text-anchor="start" font-weight="bold" fill="#000" textLength="59.5" lengthAdjust="spacingAndGlyphs" >SNA Binding</text>
<text transform="translate(22.8,321.7) rotate(-90)" font-size="9.0" text-anchor="middle" fill="#111" stroke="#111" stroke-width="0.25" textLength="70.2" lengthAdjust="spacingAndGlyphs">Normalized counts</text>
<line x1="38.70" y1="285.00" x2="38.70" y2="358.90" stroke="#111" stroke-width="1.35"/>
<line x1="35.70" y1="288.50" x2="38.70" y2="288.50" stroke="#111" stroke-width="1.1"/>
<line x1="35.70" y1="358.40" x2="38.70" y2="358.40" stroke="#111" stroke-width="1.1"/>
<line x1="31.10" y1="285.50" x2="31.10" y2="290.50" stroke="#111" stroke-width="1.0"/>
<line x1="31.40" y1="285.60" x2="29.60" y2="286.90" stroke="#111" stroke-width="0.85"/>
<text x="33.0" y="361" font-size="7.5" text-anchor="end" font-weight="normal" fill="#111"  stroke="#111" stroke-width="0.22">0</text>
<path d="M58.60,358.40 L58.60,358.40 L59.20,335.40 L60.30,332.20 L60.90,323.90 L61.40,322.56 L61.90,319.70 L62.65,319.61 L63.40,317.60 L64.25,317.11 L65.10,316.60 L65.90,317.90 L66.70,317.20 L67.25,316.52 L67.80,316.60 L68.30,318.85 L68.80,322.80 L69.85,325.10 L70.90,327.00 L72.15,326.81 L73.40,328.50 L74.45,328.19 L75.50,329.10 L76.55,328.62 L77.60,328.50 L78.65,329.52 L79.70,330.10 L80.75,329.21 L81.80,329.70 L82.85,329.83 L83.90,331.80 L84.95,334.34 L86.00,335.40 L87.00,337.08 L88.00,339.50 L89.05,343.07 L90.10,344.80 L91.15,348.19 L92.20,350.00 L93.45,351.51 L94.70,353.50 L97.40,356.20 L100.60,357.70 L102.70,358.30 L102.70,358.40Z" fill="#8e97bd" stroke="none"/>
<path d="M58.60,358.40 L59.20,335.40 L60.30,332.20 L60.90,323.90 L61.40,322.56 L61.90,319.70 L62.65,319.61 L63.40,317.60 L64.25,317.11 L65.10,316.60 L65.90,317.90 L66.70,317.20 L67.25,316.52 L67.80,316.60 L68.30,318.85 L68.80,322.80 L69.85,325.10 L70.90,327.00 L72.15,326.81 L73.40,328.50 L74.45,328.19 L75.50,329.10 L76.55,328.62 L77.60,328.50 L78.65,329.52 L79.70,330.10 L80.75,329.21 L81.80,329.70 L82.85,329.83 L83.90,331.80 L84.95,334.34 L86.00,335.40 L87.00,337.08 L88.00,339.50 L89.05,343.07 L90.10,344.80 L91.15,348.19 L92.20,350.00 L93.45,351.51 L94.70,353.50 L97.40,356.20 L100.60,357.70 L102.70,358.30" stroke="#22356e" stroke-width="1.1" fill="none" stroke-linejoin="round"/>
<path d="M49.20,358.38 L49.35,358.37 L49.50,358.36 L49.65,358.35 L49.80,358.33 L49.95,358.30 L50.10,358.26 L50.25,358.22 L50.40,358.16 L50.55,358.08 L50.70,357.98 L50.85,357.84 L51.00,357.68 L51.15,357.46 L51.30,357.19 L51.45,356.85 L51.60,356.42 L51.75,355.89 L51.90,355.25 L52.05,354.45 L52.20,353.49 L52.35,352.34 L52.50,350.96 L52.65,349.33 L52.80,347.42 L52.95,345.20 L53.10,342.65 L53.25,339.74 L53.40,336.47 L53.55,332.81 L53.70,328.80 L53.85,324.45 L54.00,319.79 L54.15,314.91 L54.30,309.89 L54.45,304.85 L54.60,299.94 L54.75,295.37 L54.90,291.37 L55.05,288.28 L55.20,286.70 L55.35,288.28 L55.50,291.37 L55.65,295.37 L55.80,299.94 L55.95,304.85 L56.10,309.89 L56.25,314.91 L56.40,319.79 L56.55,324.45 L56.70,328.80 L56.85,332.81 L57.00,336.47 L57.15,339.74 L57.30,342.65 L57.45,345.20 L57.60,347.42 L57.75,349.33 L57.90,350.96 L58.05,352.34 L58.20,353.49 L58.35,354.45 L58.50,355.25 L58.65,355.89 L58.80,356.42 L58.95,356.85 L59.10,357.19 L59.25,357.46 L59.40,357.68 L59.55,357.84 L59.70,357.98 L59.85,358.08 L60.00,358.16 L60.15,358.22 L60.30,358.26 L60.45,358.30 L60.60,358.33 L60.75,358.35 L60.90,358.36 L61.05,358.37 L61.20,358.38Z" stroke="none" stroke-width="0" fill="#a59cbc" />
<path d="M49.20,358.38 L49.35,358.37 L49.50,358.36 L49.65,358.35 L49.80,358.33 L49.95,358.30 L50.10,358.26 L50.25,358.22 L50.40,358.16 L50.55,358.08 L50.70,357.98 L50.85,357.84 L51.00,357.68 L51.15,357.46 L51.30,357.19 L51.45,356.85 L51.60,356.42 L51.75,355.89 L51.90,355.25 L52.05,354.45 L52.20,353.49 L52.35,352.34 L52.50,350.96 L52.65,349.33 L52.80,347.42 L52.95,345.20 L53.10,342.65 L53.25,339.74 L53.40,336.47 L53.55,332.81 L53.70,328.80 L53.85,324.45 L54.00,319.79 L54.15,314.91 L54.30,309.89 L54.45,304.85 L54.60,299.94 L54.75,295.37 L54.90,291.37 L55.05,288.28 L55.20,286.70 L55.35,288.28 L55.50,291.37 L55.65,295.37 L55.80,299.94 L55.95,304.85 L56.10,309.89 L56.25,314.91 L56.40,319.79 L56.55,324.45 L56.70,328.80 L56.85,332.81 L57.00,336.47 L57.15,339.74 L57.30,342.65 L57.45,345.20 L57.60,347.42 L57.75,349.33 L57.90,350.96 L58.05,352.34 L58.20,353.49 L58.35,354.45 L58.50,355.25 L58.65,355.89 L58.80,356.42 L58.95,356.85 L59.10,357.19 L59.25,357.46 L59.40,357.68 L59.55,357.84 L59.70,357.98 L59.85,358.08 L60.00,358.16 L60.15,358.22 L60.30,358.26 L60.45,358.30 L60.60,358.33 L60.75,358.35 L60.90,358.36 L61.05,358.37 L61.20,358.38" stroke="#8e1538" stroke-width="1.4" fill="none" stroke-linejoin="round"/>
<line x1="38.20" y1="358.40" x2="111.20" y2="358.40" stroke="#8e1538" stroke-width="1.0"/>
<line x1="38.20" y1="358.80" x2="111.20" y2="358.80" stroke="#222" stroke-width="0.5"/>
<line x1="43.48" y1="358.40" x2="43.48" y2="361.22" stroke="#3a2030" stroke-width="0.8"/>
<line x1="49.09" y1="358.40" x2="49.09" y2="361.28" stroke="#3a2030" stroke-width="0.8"/>
<line x1="60.94" y1="358.40" x2="60.94" y2="361.30" stroke="#3a2030" stroke-width="0.8"/>
<line x1="67.56" y1="358.40" x2="67.56" y2="361.21" stroke="#3a2030" stroke-width="0.8"/>
<line x1="73.16" y1="358.40" x2="73.16" y2="361.38" stroke="#3a2030" stroke-width="0.8"/>
<line x1="78.04" y1="358.40" x2="78.04" y2="361.04" stroke="#3a2030" stroke-width="0.8"/>
<line x1="85.89" y1="358.40" x2="85.89" y2="361.22" stroke="#3a2030" stroke-width="0.8"/>
<line x1="89.23" y1="358.40" x2="89.23" y2="360.81" stroke="#3a2030" stroke-width="0.8"/>
<line x1="95.55" y1="358.40" x2="95.55" y2="361.26" stroke="#3a2030" stroke-width="0.8"/>
<line x1="100.81" y1="358.40" x2="100.81" y2="361.29" stroke="#3a2030" stroke-width="0.8"/>
<line x1="104.88" y1="358.40" x2="104.88" y2="360.85" stroke="#3a2030" stroke-width="0.8"/>
<line x1="108.78" y1="358.40" x2="108.78" y2="361.17" stroke="#3a2030" stroke-width="0.8"/>
<line x1="41.99" y1="358.40" x2="41.99" y2="359.21" stroke="#553040" stroke-width="0.5"/>
<line x1="45.93" y1="358.40" x2="45.93" y2="359.44" stroke="#553040" stroke-width="0.5"/>
<line x1="48.74" y1="358.40" x2="48.74" y2="359.04" stroke="#553040" stroke-width="0.5"/>
<line x1="53.68" y1="358.40" x2="53.68" y2="359.58" stroke="#553040" stroke-width="0.5"/>
<line x1="56.90" y1="358.40" x2="56.90" y2="359.27" stroke="#553040" stroke-width="0.5"/>
<line x1="61.35" y1="358.40" x2="61.35" y2="359.19" stroke="#553040" stroke-width="0.5"/>
<line x1="64.88" y1="358.40" x2="64.88" y2="359.19" stroke="#553040" stroke-width="0.5"/>
<line x1="68.79" y1="358.40" x2="68.79" y2="359.36" stroke="#553040" stroke-width="0.5"/>
<line x1="72.58" y1="358.40" x2="72.58" y2="359.23" stroke="#553040" stroke-width="0.5"/>
<line x1="77.24" y1="358.40" x2="77.24" y2="359.02" stroke="#553040" stroke-width="0.5"/>
<line x1="80.81" y1="358.40" x2="80.81" y2="359.44" stroke="#553040" stroke-width="0.5"/>
<line x1="84.30" y1="358.40" x2="84.30" y2="359.13" stroke="#553040" stroke-width="0.5"/>
<line x1="88.99" y1="358.40" x2="88.99" y2="359.14" stroke="#553040" stroke-width="0.5"/>
<line x1="91.90" y1="358.40" x2="91.90" y2="359.26" stroke="#553040" stroke-width="0.5"/>
<line x1="96.62" y1="358.40" x2="96.62" y2="359.06" stroke="#553040" stroke-width="0.5"/>
<line x1="99.92" y1="358.40" x2="99.92" y2="359.20" stroke="#553040" stroke-width="0.5"/>
<line x1="104.63" y1="358.40" x2="104.63" y2="359.26" stroke="#553040" stroke-width="0.5"/>
<line x1="108.57" y1="358.40" x2="108.57" y2="359.10" stroke="#553040" stroke-width="0.5"/>
<rect x="53.70" y="358.40" width="3" height="1.6" fill="#222"/>
<text x="55.1" y="371.8" font-size="7.5" text-anchor="middle" font-weight="normal" fill="#111"  stroke="#111" stroke-width="0.22">0</text>
<text x="99.7" y="371.8" font-size="7.6" text-anchor="start" font-weight="normal" fill="#111" textLength="7.6" lengthAdjust="spacingAndGlyphs"  stroke="#111" stroke-width="0.22">10</text>
<text x="107.7" y="369.3" font-size="5.9" text-anchor="start" font-weight="normal" fill="#111" textLength="3.1" lengthAdjust="spacingAndGlyphs" >5</text>
<line x1="125.30" y1="285.00" x2="125.30" y2="358.90" stroke="#111" stroke-width="1.35"/>
<line x1="122.30" y1="288.50" x2="125.30" y2="288.50" stroke="#111" stroke-width="1.1"/>
<line x1="122.30" y1="358.40" x2="125.30" y2="358.40" stroke="#111" stroke-width="1.1"/>
<line x1="117.70" y1="285.50" x2="117.70" y2="290.50" stroke="#111" stroke-width="1.0"/>
<line x1="118.00" y1="285.60" x2="116.20" y2="286.90" stroke="#111" stroke-width="0.85"/>
<text x="119.6" y="361" font-size="7.5" text-anchor="end" font-weight="normal" fill="#111"  stroke="#111" stroke-width="0.22">0</text>
<path d="M144.50,358.40 L144.50,358.40 L145.00,334.30 L146.30,330.10 L147.80,319.70 L148.50,316.22 L149.20,313.40 L150.05,313.20 L150.90,312.40 L151.95,313.87 L153.00,313.80 L153.85,314.55 L154.70,315.50 L155.40,317.05 L156.10,319.70 L157.15,322.09 L158.20,326.00 L158.95,327.31 L159.70,328.50 L160.50,326.63 L161.30,326.00 L162.35,325.76 L163.40,324.30 L164.45,325.28 L165.50,324.90 L166.55,323.77 L167.60,323.90 L168.65,323.96 L169.70,324.90 L170.55,326.56 L171.40,327.00 L172.10,329.38 L172.80,331.20 L173.85,334.41 L174.90,336.40 L175.95,338.69 L177.00,341.60 L178.05,343.26 L179.10,346.40 L180.15,348.28 L181.20,351.00 L182.55,353.49 L183.90,354.80 L186.40,356.90 L188.50,357.70 L191.30,358.30 L191.30,358.40Z" fill="#8e97bd" stroke="none"/>
<path d="M144.50,358.40 L145.00,334.30 L146.30,330.10 L147.80,319.70 L148.50,316.22 L149.20,313.40 L150.05,313.20 L150.90,312.40 L151.95,313.87 L153.00,313.80 L153.85,314.55 L154.70,315.50 L155.40,317.05 L156.10,319.70 L157.15,322.09 L158.20,326.00 L158.95,327.31 L159.70,328.50 L160.50,326.63 L161.30,326.00 L162.35,325.76 L163.40,324.30 L164.45,325.28 L165.50,324.90 L166.55,323.77 L167.60,323.90 L168.65,323.96 L169.70,324.90 L170.55,326.56 L171.40,327.00 L172.10,329.38 L172.80,331.20 L173.85,334.41 L174.90,336.40 L175.95,338.69 L177.00,341.60 L178.05,343.26 L179.10,346.40 L180.15,348.28 L181.20,351.00 L182.55,353.49 L183.90,354.80 L186.40,356.90 L188.50,357.70 L191.30,358.30" stroke="#22356e" stroke-width="1.1" fill="none" stroke-linejoin="round"/>
<path d="M136.10,358.38 L136.25,358.37 L136.40,358.36 L136.55,358.35 L136.70,358.33 L136.85,358.30 L137.00,358.27 L137.15,358.22 L137.30,358.17 L137.45,358.09 L137.60,357.99 L137.75,357.87 L137.90,357.70 L138.05,357.50 L138.20,357.23 L138.35,356.91 L138.50,356.50 L138.65,355.99 L138.80,355.36 L138.95,354.60 L139.10,353.68 L139.25,352.57 L139.40,351.24 L139.55,349.67 L139.70,347.84 L139.85,345.70 L140.00,343.24 L140.15,340.45 L140.30,337.29 L140.45,333.78 L140.60,329.92 L140.75,325.72 L140.90,321.25 L141.05,316.55 L141.20,311.72 L141.35,306.87 L141.50,302.15 L141.65,297.74 L141.80,293.90 L141.95,290.92 L142.10,289.40 L142.25,290.92 L142.40,293.90 L142.55,297.74 L142.70,302.15 L142.85,306.87 L143.00,311.72 L143.15,316.55 L143.30,321.25 L143.45,325.72 L143.60,329.92 L143.75,333.78 L143.90,337.29 L144.05,340.45 L144.20,343.24 L144.35,345.70 L144.50,347.84 L144.65,349.67 L144.80,351.24 L144.95,352.57 L145.10,353.68 L145.25,354.60 L145.40,355.36 L145.55,355.99 L145.70,356.50 L145.85,356.91 L146.00,357.23 L146.15,357.50 L146.30,357.70 L146.45,357.87 L146.60,357.99 L146.75,358.09 L146.90,358.17 L147.05,358.22 L147.20,358.27 L147.35,358.30 L147.50,358.33 L147.65,358.35 L147.80,358.36 L147.95,358.37 L148.10,358.38Z" stroke="none" stroke-width="0" fill="#a59cbc" />
<path d="M136.10,358.38 L136.25,358.37 L136.40,358.36 L136.55,358.35 L136.70,358.33 L136.85,358.30 L137.00,358.27 L137.15,358.22 L137.30,358.17 L137.45,358.09 L137.60,357.99 L137.75,357.87 L137.90,357.70 L138.05,357.50 L138.20,357.23 L138.35,356.91 L138.50,356.50 L138.65,355.99 L138.80,355.36 L138.95,354.60 L139.10,353.68 L139.25,352.57 L139.40,351.24 L139.55,349.67 L139.70,347.84 L139.85,345.70 L140.00,343.24 L140.15,340.45 L140.30,337.29 L140.45,333.78 L140.60,329.92 L140.75,325.72 L140.90,321.25 L141.05,316.55 L141.20,311.72 L141.35,306.87 L141.50,302.15 L141.65,297.74 L141.80,293.90 L141.95,290.92 L142.10,289.40 L142.25,290.92 L142.40,293.90 L142.55,297.74 L142.70,302.15 L142.85,306.87 L143.00,311.72 L143.15,316.55 L143.30,321.25 L143.45,325.72 L143.60,329.92 L143.75,333.78 L143.90,337.29 L144.05,340.45 L144.20,343.24 L144.35,345.70 L144.50,347.84 L144.65,349.67 L144.80,351.24 L144.95,352.57 L145.10,353.68 L145.25,354.60 L145.40,355.36 L145.55,355.99 L145.70,356.50 L145.85,356.91 L146.00,357.23 L146.15,357.50 L146.30,357.70 L146.45,357.87 L146.60,357.99 L146.75,358.09 L146.90,358.17 L147.05,358.22 L147.20,358.27 L147.35,358.30 L147.50,358.33 L147.65,358.35 L147.80,358.36 L147.95,358.37 L148.10,358.38" stroke="#8e1538" stroke-width="1.4" fill="none" stroke-linejoin="round"/>
<line x1="124.80" y1="358.40" x2="197.80" y2="358.40" stroke="#8e1538" stroke-width="1.0"/>
<line x1="124.80" y1="358.80" x2="197.80" y2="358.80" stroke="#222" stroke-width="0.5"/>
<line x1="129.96" y1="358.40" x2="129.96" y2="361.08" stroke="#3a2030" stroke-width="0.8"/>
<line x1="135.55" y1="358.40" x2="135.55" y2="361.14" stroke="#3a2030" stroke-width="0.8"/>
<line x1="147.45" y1="358.40" x2="147.45" y2="361.54" stroke="#3a2030" stroke-width="0.8"/>
<line x1="153.69" y1="358.40" x2="153.69" y2="360.80" stroke="#3a2030" stroke-width="0.8"/>
<line x1="160.07" y1="358.40" x2="160.07" y2="361.50" stroke="#3a2030" stroke-width="0.8"/>
<line x1="165.09" y1="358.40" x2="165.09" y2="361.15" stroke="#3a2030" stroke-width="0.8"/>
<line x1="172.47" y1="358.40" x2="172.47" y2="361.54" stroke="#3a2030" stroke-width="0.8"/>
<line x1="175.63" y1="358.40" x2="175.63" y2="361.40" stroke="#3a2030" stroke-width="0.8"/>
<line x1="182.40" y1="358.40" x2="182.40" y2="361.33" stroke="#3a2030" stroke-width="0.8"/>
<line x1="187.71" y1="358.40" x2="187.71" y2="361.03" stroke="#3a2030" stroke-width="0.8"/>
<line x1="191.30" y1="358.40" x2="191.30" y2="360.98" stroke="#3a2030" stroke-width="0.8"/>
<line x1="195.04" y1="358.40" x2="195.04" y2="361.27" stroke="#3a2030" stroke-width="0.8"/>
<line x1="127.96" y1="358.40" x2="127.96" y2="359.49" stroke="#553040" stroke-width="0.5"/>
<line x1="131.47" y1="358.40" x2="131.47" y2="359.54" stroke="#553040" stroke-width="0.5"/>
<line x1="136.41" y1="358.40" x2="136.41" y2="359.55" stroke="#553040" stroke-width="0.5"/>
<line x1="140.63" y1="358.40" x2="140.63" y2="359.54" stroke="#553040" stroke-width="0.5"/>
<line x1="144.02" y1="358.40" x2="144.02" y2="359.01" stroke="#553040" stroke-width="0.5"/>
<line x1="148.19" y1="358.40" x2="148.19" y2="359.10" stroke="#553040" stroke-width="0.5"/>
<line x1="151.38" y1="358.40" x2="151.38" y2="359.40" stroke="#553040" stroke-width="0.5"/>
<line x1="155.64" y1="358.40" x2="155.64" y2="359.25" stroke="#553040" stroke-width="0.5"/>
<line x1="160.20" y1="358.40" x2="160.20" y2="359.37" stroke="#553040" stroke-width="0.5"/>
<line x1="163.15" y1="358.40" x2="163.15" y2="359.15" stroke="#553040" stroke-width="0.5"/>
<line x1="167.88" y1="358.40" x2="167.88" y2="359.29" stroke="#553040" stroke-width="0.5"/>
<line x1="171.65" y1="358.40" x2="171.65" y2="359.21" stroke="#553040" stroke-width="0.5"/>
<line x1="174.62" y1="358.40" x2="174.62" y2="359.32" stroke="#553040" stroke-width="0.5"/>
<line x1="179.51" y1="358.40" x2="179.51" y2="359.10" stroke="#553040" stroke-width="0.5"/>
<line x1="183.37" y1="358.40" x2="183.37" y2="359.55" stroke="#553040" stroke-width="0.5"/>
<line x1="187.29" y1="358.40" x2="187.29" y2="359.49" stroke="#553040" stroke-width="0.5"/>
<line x1="189.91" y1="358.40" x2="189.91" y2="359.38" stroke="#553040" stroke-width="0.5"/>
<line x1="195.18" y1="358.40" x2="195.18" y2="359.03" stroke="#553040" stroke-width="0.5"/>
<rect x="140.60" y="358.40" width="3" height="1.6" fill="#222"/>
<text x="141.7" y="371.8" font-size="7.5" text-anchor="middle" font-weight="normal" fill="#111"  stroke="#111" stroke-width="0.22">0</text>
<text x="186.3" y="371.8" font-size="7.6" text-anchor="start" font-weight="normal" fill="#111" textLength="7.6" lengthAdjust="spacingAndGlyphs"  stroke="#111" stroke-width="0.22">10</text>
<text x="194.3" y="369.3" font-size="5.9" text-anchor="start" font-weight="normal" fill="#111" textLength="3.1" lengthAdjust="spacingAndGlyphs" >5</text>
<line x1="213.80" y1="285.00" x2="213.80" y2="358.90" stroke="#111" stroke-width="1.35"/>
<line x1="210.80" y1="288.50" x2="213.80" y2="288.50" stroke="#111" stroke-width="1.1"/>
<line x1="210.80" y1="358.40" x2="213.80" y2="358.40" stroke="#111" stroke-width="1.1"/>
<line x1="206.20" y1="285.50" x2="206.20" y2="290.50" stroke="#111" stroke-width="1.0"/>
<line x1="206.50" y1="285.60" x2="204.70" y2="286.90" stroke="#111" stroke-width="0.85"/>
<text x="208.10000000000002" y="361" font-size="7.5" text-anchor="end" font-weight="normal" fill="#111"  stroke="#111" stroke-width="0.22">0</text>
<path d="M224.00,358.18 L224.15,358.12 L224.30,358.05 L224.45,357.96 L224.60,357.85 L224.75,357.72 L224.90,357.56 L225.05,357.37 L225.20,357.13 L225.35,356.85 L225.50,356.52 L225.65,356.12 L225.80,355.64 L225.95,355.08 L226.10,354.43 L226.25,353.66 L226.40,352.77 L226.55,351.74 L226.70,350.56 L226.85,349.20 L227.00,347.66 L227.15,345.92 L227.30,343.97 L227.45,341.79 L227.60,339.37 L227.75,336.71 L227.90,333.81 L228.05,330.66 L228.20,327.28 L228.35,323.68 L228.50,319.89 L228.65,315.95 L228.80,311.90 L228.95,307.79 L229.10,303.70 L229.25,299.72 L229.40,295.95 L229.55,292.52 L229.70,289.57 L229.85,287.33 L230.00,286.20 L230.15,287.33 L230.30,289.57 L230.45,292.52 L230.60,295.95 L230.75,299.72 L230.90,303.70 L231.05,307.79 L231.20,311.90 L231.35,315.95 L231.50,319.89 L231.65,323.68 L231.80,327.28 L231.95,330.66 L232.10,333.81 L232.25,336.71 L232.40,339.37 L232.55,341.79 L232.70,343.97 L232.85,345.92 L233.00,347.66 L233.15,349.20 L233.30,350.56 L233.45,351.74 L233.60,352.77 L233.75,353.66 L233.90,354.43 L234.05,355.08 L234.20,355.64 L234.35,356.12 L234.50,356.52 L234.65,356.85 L234.80,357.13 L234.95,357.37 L235.10,357.56 L235.25,357.72 L235.40,357.85 L235.55,357.96 L235.70,358.05 L235.85,358.12 L236.00,358.18Z" stroke="none" stroke-width="0" fill="#dccfd4" />
<path d="M224.00,358.18 L224.15,358.12 L224.30,358.05 L224.45,357.96 L224.60,357.85 L224.75,357.72 L224.90,357.56 L225.05,357.37 L225.20,357.13 L225.35,356.85 L225.50,356.52 L225.65,356.12 L225.80,355.64 L225.95,355.08 L226.10,354.43 L226.25,353.66 L226.40,352.77 L226.55,351.74 L226.70,350.56 L226.85,349.20 L227.00,347.66 L227.15,345.92 L227.30,343.97 L227.45,341.79 L227.60,339.37 L227.75,336.71 L227.90,333.81 L228.05,330.66 L228.20,327.28 L228.35,323.68 L228.50,319.89 L228.65,315.95 L228.80,311.90 L228.95,307.79 L229.10,303.70 L229.25,299.72 L229.40,295.95 L229.55,292.52 L229.70,289.57 L229.85,287.33 L230.00,286.20 L230.15,287.33 L230.30,289.57 L230.45,292.52 L230.60,295.95 L230.75,299.72 L230.90,303.70 L231.05,307.79 L231.20,311.90 L231.35,315.95 L231.50,319.89 L231.65,323.68 L231.80,327.28 L231.95,330.66 L232.10,333.81 L232.25,336.71 L232.40,339.37 L232.55,341.79 L232.70,343.97 L232.85,345.92 L233.00,347.66 L233.15,349.20 L233.30,350.56 L233.45,351.74 L233.60,352.77 L233.75,353.66 L233.90,354.43 L234.05,355.08 L234.20,355.64 L234.35,356.12 L234.50,356.52 L234.65,356.85 L234.80,357.13 L234.95,357.37 L235.10,357.56 L235.25,357.72 L235.40,357.85 L235.55,357.96 L235.70,358.05 L235.85,358.12 L236.00,358.18" stroke="#8e1538" stroke-width="1.4" fill="none" stroke-linejoin="round"/>
<line x1="213.30" y1="358.40" x2="286.30" y2="358.40" stroke="#8e1538" stroke-width="1.0"/>
<line x1="213.30" y1="358.80" x2="286.30" y2="358.80" stroke="#222" stroke-width="0.5"/>
<line x1="218.46" y1="358.40" x2="218.46" y2="361.01" stroke="#3a2030" stroke-width="0.8"/>
<line x1="224.12" y1="358.40" x2="224.12" y2="361.14" stroke="#3a2030" stroke-width="0.8"/>
<line x1="235.98" y1="358.40" x2="235.98" y2="361.42" stroke="#3a2030" stroke-width="0.8"/>
<line x1="242.10" y1="358.40" x2="242.10" y2="360.84" stroke="#3a2030" stroke-width="0.8"/>
<line x1="248.08" y1="358.40" x2="248.08" y2="360.90" stroke="#3a2030" stroke-width="0.8"/>
<line x1="253.04" y1="358.40" x2="253.04" y2="361.58" stroke="#3a2030" stroke-width="0.8"/>
<line x1="260.91" y1="358.40" x2="260.91" y2="360.87" stroke="#3a2030" stroke-width="0.8"/>
<line x1="264.30" y1="358.40" x2="264.30" y2="361.05" stroke="#3a2030" stroke-width="0.8"/>
<line x1="270.59" y1="358.40" x2="270.59" y2="361.08" stroke="#3a2030" stroke-width="0.8"/>
<line x1="276.29" y1="358.40" x2="276.29" y2="361.27" stroke="#3a2030" stroke-width="0.8"/>
<line x1="279.82" y1="358.40" x2="279.82" y2="360.95" stroke="#3a2030" stroke-width="0.8"/>
<line x1="283.70" y1="358.40" x2="283.70" y2="360.90" stroke="#3a2030" stroke-width="0.8"/>
<line x1="216.89" y1="358.40" x2="216.89" y2="359.43" stroke="#553040" stroke-width="0.5"/>
<line x1="220.51" y1="358.40" x2="220.51" y2="359.05" stroke="#553040" stroke-width="0.5"/>
<line x1="224.09" y1="358.40" x2="224.09" y2="359.22" stroke="#553040" stroke-width="0.5"/>
<line x1="228.67" y1="358.40" x2="228.67" y2="359.47" stroke="#553040" stroke-width="0.5"/>
<line x1="232.21" y1="358.40" x2="232.21" y2="359.48" stroke="#553040" stroke-width="0.5"/>
<line x1="236.50" y1="358.40" x2="236.50" y2="359.26" stroke="#553040" stroke-width="0.5"/>
<line x1="240.00" y1="358.40" x2="240.00" y2="359.30" stroke="#553040" stroke-width="0.5"/>
<line x1="244.42" y1="358.40" x2="244.42" y2="359.25" stroke="#553040" stroke-width="0.5"/>
<line x1="248.31" y1="358.40" x2="248.31" y2="359.28" stroke="#553040" stroke-width="0.5"/>
<line x1="251.49" y1="358.40" x2="251.49" y2="359.32" stroke="#553040" stroke-width="0.5"/>
<line x1="256.11" y1="358.40" x2="256.11" y2="359.04" stroke="#553040" stroke-width="0.5"/>
<line x1="259.58" y1="358.40" x2="259.58" y2="359.26" stroke="#553040" stroke-width="0.5"/>
<line x1="264.21" y1="358.40" x2="264.21" y2="359.56" stroke="#553040" stroke-width="0.5"/>
<line x1="267.30" y1="358.40" x2="267.30" y2="359.54" stroke="#553040" stroke-width="0.5"/>
<line x1="271.87" y1="358.40" x2="271.87" y2="359.16" stroke="#553040" stroke-width="0.5"/>
<line x1="275.24" y1="358.40" x2="275.24" y2="359.07" stroke="#553040" stroke-width="0.5"/>
<line x1="279.70" y1="358.40" x2="279.70" y2="359.40" stroke="#553040" stroke-width="0.5"/>
<line x1="283.72" y1="358.40" x2="283.72" y2="359.48" stroke="#553040" stroke-width="0.5"/>
<rect x="228.50" y="358.40" width="3" height="1.6" fill="#222"/>
<text x="230.20000000000002" y="371.8" font-size="7.5" text-anchor="middle" font-weight="normal" fill="#111"  stroke="#111" stroke-width="0.22">0</text>
<text x="274.8" y="371.8" font-size="7.6" text-anchor="start" font-weight="normal" fill="#111" textLength="7.6" lengthAdjust="spacingAndGlyphs"  stroke="#111" stroke-width="0.22">10</text>
<text x="282.8" y="369.3" font-size="5.9" text-anchor="start" font-weight="normal" fill="#111" textLength="3.1" lengthAdjust="spacingAndGlyphs" >5</text>
<text x="64.4" y="383.8" font-size="8.3" text-anchor="start" font-weight="normal" fill="#111" textLength="21.6" lengthAdjust="spacingAndGlyphs"  stroke="#111" stroke-width="0.22">DPBS</text>
<text x="141.3" y="383.6" font-size="8.3" text-anchor="start" font-weight="normal" fill="#111" textLength="42" lengthAdjust="spacingAndGlyphs"  stroke="#111" stroke-width="0.22">MTSC Only</text>
<text x="223" y="383.6" font-size="8.3" text-anchor="start" font-weight="normal" fill="#111" textLength="54.2" lengthAdjust="spacingAndGlyphs"  stroke="#111" stroke-width="0.22">NaIO<tspan font-size="5.4" dy="1.6">4</tspan><tspan dy="-1.6"> + MTSC</tspan></text>
<text x="109.6" y="397.7" font-size="10.2" text-anchor="start" font-weight="normal" fill="#111" textLength="105.6" lengthAdjust="spacingAndGlyphs"  stroke="#111" stroke-width="0.22">Flourescence intensity (log)</text>
<line x1="248.50" y1="288.90" x2="259.60" y2="288.90" stroke="#7d1a32" stroke-width="1.3"/>
<text x="262.7" y="291.6" font-size="8.4" text-anchor="start" font-weight="normal" fill="#111" textLength="24.3" lengthAdjust="spacingAndGlyphs"  stroke="#111" stroke-width="0.22">Isotype</text>
<rect x="248.3" y="297.8" width="12.3" height="5.9" fill="#8e97bd" stroke="#213a78" stroke-width="0.8"/>
<text x="262.7" y="303.3" font-size="8.2" text-anchor="start" font-weight="normal" fill="#111" textLength="15.8" lengthAdjust="spacingAndGlyphs"  stroke="#111" stroke-width="0.22">SNA</text>
<text x="375.0" y="273.0" font-size="9.5" text-anchor="start" font-weight="normal" fill="#000" textLength="20.1" lengthAdjust="spacingAndGlyphs"  stroke="#000" stroke-width="0.45">ROS</text>
<text transform="translate(311.8,319.9) rotate(-90)" font-size="8.9" text-anchor="middle" fill="#111" stroke="#111" stroke-width="0.22" textLength="124.2" lengthAdjust="spacingAndGlyphs">MFI (normalized to 0 time point)</text>
<line x1="335.20" y1="281.30" x2="335.20" y2="358.90" stroke="#111" stroke-width="1.35"/>
<line x1="332.00" y1="358.30" x2="335.20" y2="358.30" stroke="#111" stroke-width="1.1"/>
<text x="329.1" y="361.1" font-size="8" text-anchor="end" font-weight="normal" fill="#111"  stroke="#111" stroke-width="0.22">0</text>
<line x1="332.00" y1="339.85" x2="335.20" y2="339.85" stroke="#111" stroke-width="1.1"/>
<text x="329.1" y="342.65000000000003" font-size="8" text-anchor="end" font-weight="normal" fill="#111"  stroke="#111" stroke-width="0.22">0.5</text>
<line x1="332.00" y1="321.40" x2="335.20" y2="321.40" stroke="#111" stroke-width="1.1"/>
<line x1="328.00" y1="318.60" x2="328.00" y2="324.20" stroke="#111" stroke-width="1.0"/>
<line x1="328.30" y1="318.70" x2="326.50" y2="320.00" stroke="#111" stroke-width="0.85"/>
<line x1="332.00" y1="302.95" x2="335.20" y2="302.95" stroke="#111" stroke-width="1.1"/>
<text x="329.1" y="305.75000000000006" font-size="8" text-anchor="end" font-weight="normal" fill="#111"  stroke="#111" stroke-width="0.22">1.5</text>
<line x1="332.00" y1="284.50" x2="335.20" y2="284.50" stroke="#111" stroke-width="1.1"/>
<text x="329.1" y="287.3" font-size="8" text-anchor="end" font-weight="normal" fill="#111"  stroke="#111" stroke-width="0.22">2</text>
<line x1="332.00" y1="358.30" x2="433.80" y2="358.30" stroke="#111" stroke-width="1.3"/>
<line x1="384.50" y1="358.30" x2="384.50" y2="361.90" stroke="#111" stroke-width="1.1"/>
<rect x="345.2" y="308.0" width="15.00" height="50.30" fill="#a90c2c"/>
<line x1="352.70" y1="308.00" x2="352.70" y2="306.60" stroke="#222" stroke-width="1.2"/>
<line x1="349.20" y1="306.60" x2="356.40" y2="306.60" stroke="#222" stroke-width="1.3"/>
<rect x="366.5" y="334.2" width="15.20" height="24.10" fill="#2e4d82"/>
<line x1="374.10" y1="334.20" x2="374.10" y2="333.40" stroke="#121a3c" stroke-width="1.2"/>
<line x1="370.30" y1="333.40" x2="377.70" y2="333.40" stroke="#121a3c" stroke-width="1.3"/>
<rect x="388.0" y="325.4" width="14.60" height="32.90" fill="#2e4d82"/>
<line x1="395.30" y1="325.40" x2="395.30" y2="314.80" stroke="#222" stroke-width="1.2"/>
<line x1="391.30" y1="314.80" x2="399.00" y2="314.80" stroke="#222" stroke-width="1.3"/>
<rect x="409.1" y="300.0" width="14.80" height="58.30" fill="#2e4d82"/>
<line x1="416.50" y1="300.00" x2="416.50" y2="291.40" stroke="#222" stroke-width="1.2"/>
<line x1="412.60" y1="291.40" x2="420.30" y2="291.40" stroke="#222" stroke-width="1.3"/>
<line x1="352.20" y1="286.80" x2="395.80" y2="286.80" stroke="#111" stroke-width="1.3"/>
<line x1="352.20" y1="285.00" x2="352.20" y2="288.60" stroke="#111" stroke-width="1.1"/>
<line x1="395.80" y1="285.00" x2="395.80" y2="288.60" stroke="#111" stroke-width="1.1"/>
<line x1="352.20" y1="296.50" x2="372.00" y2="296.50" stroke="#111" stroke-width="1.3"/>
<line x1="352.20" y1="294.70" x2="352.20" y2="298.30" stroke="#111" stroke-width="1.1"/>
<line x1="372.00" y1="294.70" x2="372.00" y2="298.30" stroke="#111" stroke-width="1.1"/>
<circle cx="372.0" cy="283.2" r="1.15" fill="#1a1a1a"/>
<circle cx="375.6" cy="283.2" r="1.15" fill="#1a1a1a"/>
<circle cx="358.0" cy="292.5" r="1.15" fill="#1a1a1a"/>
<circle cx="362.0" cy="292.5" r="1.15" fill="#1a1a1a"/>
<circle cx="366.0" cy="292.5" r="1.15" fill="#1a1a1a"/>
<text x="352.5" y="371.9" font-size="8.7" text-anchor="middle" font-weight="normal" fill="#111"  stroke="#111" stroke-width="0.22">N</text>
<text x="374" y="371.9" font-size="8.7" text-anchor="middle" font-weight="normal" fill="#111"  stroke="#111" stroke-width="0.22">U</text>
<text x="394.8" y="371.9" font-size="8.7" text-anchor="middle" font-weight="normal" fill="#111"  stroke="#111" stroke-width="0.22">M</text>
<text x="416.3" y="371.9" font-size="8.7" text-anchor="middle" font-weight="normal" fill="#111"  stroke="#111" stroke-width="0.22">T</text>
<rect x="427.7" y="282.3" width="13.1" height="6.4" fill="#a90c2c"/>
<rect x="427.7" y="293" width="13.1" height="6.6" fill="#2e4d82"/>
<text x="444.6" y="288.3" font-size="8.1" text-anchor="start" font-weight="normal" fill="#111" textLength="68.3" lengthAdjust="spacingAndGlyphs"  stroke="#111" stroke-width="0.22">Neutrophils Only (N)</text>
<text x="444.6" y="299.0" font-size="8.1" text-anchor="start" font-weight="normal" fill="#111" textLength="44.6" lengthAdjust="spacingAndGlyphs"  stroke="#111" stroke-width="0.22">Neutrophils +</text>
<text x="444.6" y="317.5" font-size="8.1" text-anchor="start" font-weight="normal" fill="#111" textLength="63.4" lengthAdjust="spacingAndGlyphs"  stroke="#111" stroke-width="0.22">Erythrocytes (1:50)</text>
<text x="444.6" y="326.5" font-size="8.1" text-anchor="start" font-weight="normal" fill="#111" textLength="45.6" lengthAdjust="spacingAndGlyphs"  stroke="#111" stroke-width="0.22">Untreated (U)</text>
<text x="444.6" y="335.4" font-size="8.1" text-anchor="start" font-weight="normal" fill="#111" textLength="31.2" lengthAdjust="spacingAndGlyphs"  stroke="#111" stroke-width="0.22">Mock (M)</text>
<text x="444.6" y="344.4" font-size="8.1" text-anchor="start" font-weight="normal" fill="#111" textLength="37.3" lengthAdjust="spacingAndGlyphs"  stroke="#111" stroke-width="0.22">Treated (T)</text>
<rect x="0.7" y="0.6" width="518.6" height="405.7" fill="none" stroke="#000" stroke-width="1.5"/>
</svg></body></html>
